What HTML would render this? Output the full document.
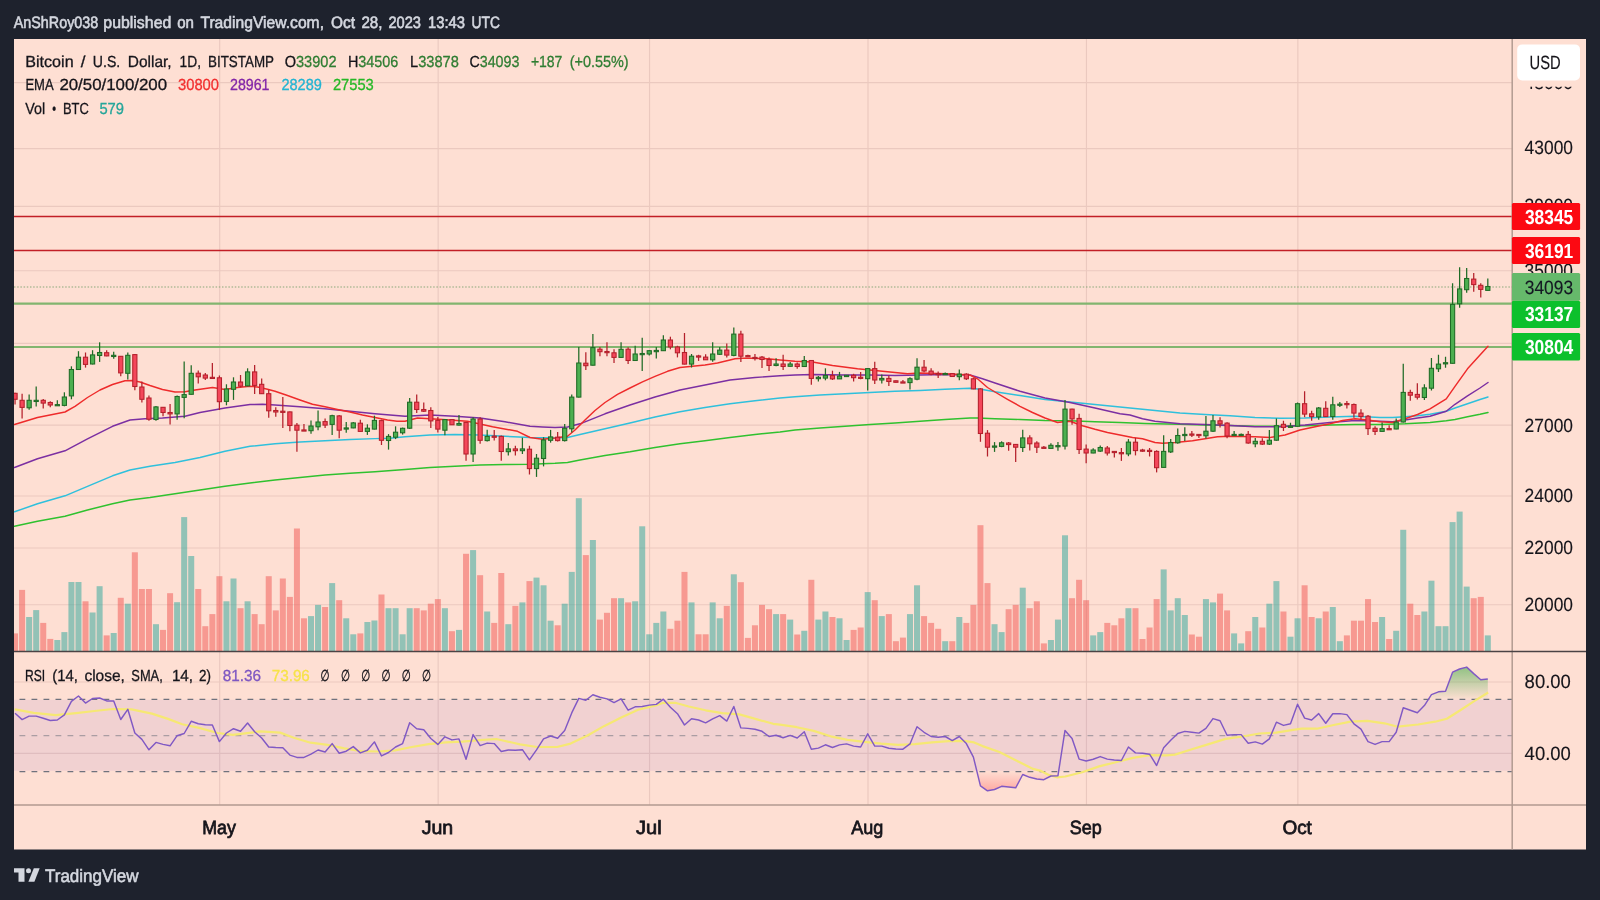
<!DOCTYPE html>
<html lang="en"><head><meta charset="utf-8"><title>BTCUSD chart by AnShRoy038 - TradingView</title>
<style>html,body{margin:0;padding:0;background:#1e222d;}body{width:1600px;height:900px;overflow:hidden;}svg{display:block;font-family:'Liberation Sans', 'DejaVu Sans', sans-serif;will-change:transform;text-rendering:geometricPrecision;}</style>
</head><body>
<svg width="1600" height="900" viewBox="0 0 1600 900">
<rect x="0" y="0" width="1600" height="900" fill="#1e222d"/>
<rect x="14" y="39" width="1572" height="810.5" fill="#fedfd3"/>
<defs>
<clipPath id="cm"><rect x="14" y="39" width="1498.2" height="612.4"/></clipPath>
<clipPath id="cr"><rect x="14" y="651.4" width="1498.2" height="153.60000000000002"/></clipPath>
<linearGradient id="gob" gradientUnits="userSpaceOnUse" x1="0" y1="646.5" x2="0" y2="699.75"><stop offset="0" stop-color="#4caf50" stop-opacity="1"/><stop offset="1" stop-color="#4caf50" stop-opacity="0"/></linearGradient>
<linearGradient id="gos" gradientUnits="userSpaceOnUse" x1="0" y1="770.75" x2="0" y2="824"><stop offset="0" stop-color="#ff5252" stop-opacity="0"/><stop offset="1" stop-color="#ff5252" stop-opacity="1"/></linearGradient>
</defs>
<g stroke="#ebc9bf" stroke-width="1.15" fill="none">
<line x1="14" y1="82.6" x2="1512.2" y2="82.6"/>
<line x1="14" y1="148.6" x2="1512.2" y2="148.6"/>
<line x1="14" y1="206.3" x2="1512.2" y2="206.3"/>
<line x1="14" y1="270.7" x2="1512.2" y2="270.7"/>
<line x1="14" y1="343.4" x2="1512.2" y2="343.4"/>
<line x1="14" y1="425.1" x2="1512.2" y2="425.1"/>
<line x1="14" y1="496" x2="1512.2" y2="496"/>
<line x1="14" y1="548" x2="1512.2" y2="548"/>
<line x1="14" y1="604.7" x2="1512.2" y2="604.7"/>
<line x1="14" y1="682" x2="1512.2" y2="682"/>
<line x1="14" y1="753.3" x2="1512.2" y2="753.3"/>
<line x1="219.7" y1="39" x2="219.7" y2="805"/>
<line x1="438.15" y1="39" x2="438.15" y2="805"/>
<line x1="649.55" y1="39" x2="649.55" y2="805"/>
<line x1="868" y1="39" x2="868" y2="805"/>
<line x1="1086.45" y1="39" x2="1086.45" y2="805"/>
<line x1="1297.85" y1="39" x2="1297.85" y2="805"/>
</g>
<g clip-path="url(#cm)">
<g fill="#26a69a" fill-opacity="0.5">
<rect x="26.14" y="617" width="6" height="34.4"/>
<rect x="33.19" y="610.1" width="6" height="41.3"/>
<rect x="54.33" y="640" width="6" height="11.4"/>
<rect x="61.38" y="632.1" width="6" height="19.3"/>
<rect x="68.42" y="582" width="6" height="69.4"/>
<rect x="75.47" y="582" width="6" height="69.4"/>
<rect x="89.56" y="612.5" width="6" height="38.9"/>
<rect x="96.61" y="586.2" width="6" height="65.2"/>
<rect x="110.7" y="633" width="6" height="18.4"/>
<rect x="124.8" y="603.7" width="6" height="47.7"/>
<rect x="152.98" y="624.2" width="6" height="27.2"/>
<rect x="174.12" y="602.2" width="6" height="49.2"/>
<rect x="181.17" y="517.1" width="6" height="134.3"/>
<rect x="188.22" y="556" width="6" height="95.4"/>
<rect x="223.45" y="601.3" width="6" height="50.1"/>
<rect x="230.5" y="578.5" width="6" height="72.9"/>
<rect x="244.59" y="601.3" width="6" height="50.1"/>
<rect x="308.01" y="616.1" width="6" height="35.3"/>
<rect x="315.06" y="604.9" width="6" height="46.5"/>
<rect x="329.15" y="583.1" width="6" height="68.3"/>
<rect x="343.24" y="618.3" width="6" height="33.1"/>
<rect x="350.29" y="634.3" width="6" height="17.1"/>
<rect x="364.39" y="622" width="6" height="29.4"/>
<rect x="371.43" y="620.5" width="6" height="30.9"/>
<rect x="385.53" y="608.2" width="6" height="43.2"/>
<rect x="392.57" y="608.2" width="6" height="43.2"/>
<rect x="399.62" y="634.3" width="6" height="17.1"/>
<rect x="406.67" y="608.2" width="6" height="43.2"/>
<rect x="441.9" y="608.2" width="6" height="43.2"/>
<rect x="455.99" y="629.9" width="6" height="21.5"/>
<rect x="470.09" y="550.1" width="6" height="101.3"/>
<rect x="484.18" y="611.5" width="6" height="39.9"/>
<rect x="505.32" y="624.2" width="6" height="27.2"/>
<rect x="519.41" y="602.4" width="6" height="49"/>
<rect x="533.51" y="577.6" width="6" height="73.8"/>
<rect x="540.55" y="585.3" width="6" height="66.1"/>
<rect x="547.6" y="620.7" width="6" height="30.7"/>
<rect x="561.69" y="603.7" width="6" height="47.7"/>
<rect x="568.74" y="571.9" width="6" height="79.5"/>
<rect x="575.79" y="498.2" width="6" height="153.2"/>
<rect x="589.88" y="540" width="6" height="111.4"/>
<rect x="618.07" y="598.2" width="6" height="53.2"/>
<rect x="632.16" y="601.3" width="6" height="50.1"/>
<rect x="639.21" y="526.3" width="6" height="125.1"/>
<rect x="646.25" y="634.3" width="6" height="17.1"/>
<rect x="653.3" y="622.9" width="6" height="28.5"/>
<rect x="660.35" y="611.5" width="6" height="39.9"/>
<rect x="688.53" y="602.4" width="6" height="49"/>
<rect x="709.67" y="602.4" width="6" height="49"/>
<rect x="716.72" y="618.3" width="6" height="33.1"/>
<rect x="730.81" y="574.3" width="6" height="77.1"/>
<rect x="773.09" y="614.1" width="6" height="37.3"/>
<rect x="787.19" y="619.6" width="6" height="31.8"/>
<rect x="801.28" y="630.8" width="6" height="20.6"/>
<rect x="815.37" y="619.6" width="6" height="31.8"/>
<rect x="822.42" y="611.5" width="6" height="39.9"/>
<rect x="836.51" y="618.3" width="6" height="33.1"/>
<rect x="843.56" y="640" width="6" height="11.4"/>
<rect x="864.7" y="592.1" width="6" height="59.3"/>
<rect x="878.79" y="616.1" width="6" height="35.3"/>
<rect x="906.98" y="614.1" width="6" height="37.3"/>
<rect x="914.03" y="585.3" width="6" height="66.1"/>
<rect x="942.21" y="641.2" width="6" height="10.2"/>
<rect x="956.31" y="617" width="6" height="34.4"/>
<rect x="991.54" y="624.2" width="6" height="27.2"/>
<rect x="998.59" y="632.1" width="6" height="19.3"/>
<rect x="1019.73" y="587.7" width="6" height="63.7"/>
<rect x="1047.91" y="640" width="6" height="11.4"/>
<rect x="1054.96" y="619.6" width="6" height="31.8"/>
<rect x="1062.01" y="535.3" width="6" height="116.1"/>
<rect x="1090.2" y="635.4" width="6" height="16"/>
<rect x="1097.24" y="632.1" width="6" height="19.3"/>
<rect x="1125.43" y="608.2" width="6" height="43.2"/>
<rect x="1160.66" y="569.4" width="6" height="82"/>
<rect x="1167.71" y="610.4" width="6" height="41"/>
<rect x="1174.76" y="598.2" width="6" height="53.2"/>
<rect x="1181.8" y="615" width="6" height="36.4"/>
<rect x="1202.94" y="599.1" width="6" height="52.3"/>
<rect x="1209.99" y="602.4" width="6" height="49"/>
<rect x="1231.13" y="633.4" width="6" height="18"/>
<rect x="1238.18" y="643.4" width="6" height="8"/>
<rect x="1252.27" y="617" width="6" height="34.4"/>
<rect x="1266.36" y="603.7" width="6" height="47.7"/>
<rect x="1273.41" y="581.1" width="6" height="70.3"/>
<rect x="1287.5" y="636.7" width="6" height="14.7"/>
<rect x="1294.55" y="618.3" width="6" height="33.1"/>
<rect x="1315.69" y="618.3" width="6" height="33.1"/>
<rect x="1329.78" y="607" width="6" height="44.4"/>
<rect x="1336.83" y="641.2" width="6" height="10.2"/>
<rect x="1379.11" y="617" width="6" height="34.4"/>
<rect x="1393.2" y="630.8" width="6" height="20.6"/>
<rect x="1400.25" y="529.8" width="6" height="121.6"/>
<rect x="1421.39" y="611.5" width="6" height="39.9"/>
<rect x="1428.44" y="580.7" width="6" height="70.7"/>
<rect x="1435.48" y="626.2" width="6" height="25.2"/>
<rect x="1442.53" y="626.2" width="6" height="25.2"/>
<rect x="1449.58" y="522.1" width="6" height="129.3"/>
<rect x="1456.62" y="511.6" width="6" height="139.8"/>
<rect x="1463.67" y="586.6" width="6" height="64.8"/>
<rect x="1484.81" y="635.4" width="6" height="16"/>
</g>
<g fill="#ef5350" fill-opacity="0.5">
<rect x="12.05" y="633.4" width="6" height="18"/>
<rect x="19.1" y="589.9" width="6" height="61.5"/>
<rect x="40.24" y="622.9" width="6" height="28.5"/>
<rect x="47.28" y="638.9" width="6" height="12.5"/>
<rect x="82.52" y="601.3" width="6" height="50.1"/>
<rect x="103.66" y="635.4" width="6" height="16"/>
<rect x="117.75" y="597.8" width="6" height="53.6"/>
<rect x="131.84" y="552.3" width="6" height="99.1"/>
<rect x="138.89" y="589" width="6" height="62.4"/>
<rect x="145.94" y="589" width="6" height="62.4"/>
<rect x="160.03" y="629.9" width="6" height="21.5"/>
<rect x="167.08" y="593.2" width="6" height="58.2"/>
<rect x="195.26" y="589" width="6" height="62.4"/>
<rect x="202.31" y="626.2" width="6" height="25.2"/>
<rect x="209.36" y="614.1" width="6" height="37.3"/>
<rect x="216.4" y="576.2" width="6" height="75.2"/>
<rect x="237.54" y="608.2" width="6" height="43.2"/>
<rect x="251.64" y="614.1" width="6" height="37.3"/>
<rect x="258.68" y="624.2" width="6" height="27.2"/>
<rect x="265.73" y="576.2" width="6" height="75.2"/>
<rect x="272.78" y="610.4" width="6" height="41"/>
<rect x="279.82" y="578.5" width="6" height="72.9"/>
<rect x="286.87" y="596.9" width="6" height="54.5"/>
<rect x="293.92" y="528.5" width="6" height="122.9"/>
<rect x="300.96" y="618.3" width="6" height="33.1"/>
<rect x="322.1" y="607" width="6" height="44.4"/>
<rect x="336.2" y="600.2" width="6" height="51.2"/>
<rect x="357.34" y="633.4" width="6" height="18"/>
<rect x="378.48" y="594.5" width="6" height="56.9"/>
<rect x="413.71" y="608.2" width="6" height="43.2"/>
<rect x="420.76" y="610.4" width="6" height="41"/>
<rect x="427.81" y="603.7" width="6" height="47.7"/>
<rect x="434.85" y="599.1" width="6" height="52.3"/>
<rect x="448.95" y="631.2" width="6" height="20.2"/>
<rect x="463.04" y="553.8" width="6" height="97.6"/>
<rect x="477.13" y="575.2" width="6" height="76.2"/>
<rect x="491.23" y="622.9" width="6" height="28.5"/>
<rect x="498.27" y="573" width="6" height="78.4"/>
<rect x="512.37" y="605.9" width="6" height="45.5"/>
<rect x="526.46" y="581.1" width="6" height="70.3"/>
<rect x="554.65" y="625.3" width="6" height="26.1"/>
<rect x="582.83" y="555.1" width="6" height="96.3"/>
<rect x="596.93" y="619.6" width="6" height="31.8"/>
<rect x="603.97" y="612.8" width="6" height="38.6"/>
<rect x="611.02" y="598.2" width="6" height="53.2"/>
<rect x="625.11" y="602.4" width="6" height="49"/>
<rect x="667.39" y="628.8" width="6" height="22.6"/>
<rect x="674.44" y="620.7" width="6" height="30.7"/>
<rect x="681.49" y="571.9" width="6" height="79.5"/>
<rect x="695.58" y="634.3" width="6" height="17.1"/>
<rect x="702.63" y="634.3" width="6" height="17.1"/>
<rect x="723.77" y="605.9" width="6" height="45.5"/>
<rect x="737.86" y="582.2" width="6" height="69.2"/>
<rect x="744.91" y="637.9" width="6" height="13.5"/>
<rect x="751.95" y="625.3" width="6" height="26.1"/>
<rect x="759" y="604.9" width="6" height="46.5"/>
<rect x="766.05" y="609.2" width="6" height="42.2"/>
<rect x="780.14" y="614.1" width="6" height="37.3"/>
<rect x="794.23" y="634.5" width="6" height="16.9"/>
<rect x="808.33" y="579.8" width="6" height="71.6"/>
<rect x="829.47" y="617" width="6" height="34.4"/>
<rect x="850.61" y="629.9" width="6" height="21.5"/>
<rect x="857.65" y="627.5" width="6" height="23.9"/>
<rect x="871.75" y="600.2" width="6" height="51.2"/>
<rect x="885.84" y="614.1" width="6" height="37.3"/>
<rect x="892.89" y="641.2" width="6" height="10.2"/>
<rect x="899.93" y="637.6" width="6" height="13.8"/>
<rect x="921.07" y="616.1" width="6" height="35.3"/>
<rect x="928.12" y="622.9" width="6" height="28.5"/>
<rect x="935.17" y="628.8" width="6" height="22.6"/>
<rect x="949.26" y="641.2" width="6" height="10.2"/>
<rect x="963.35" y="622.9" width="6" height="28.5"/>
<rect x="970.4" y="604.9" width="6" height="46.5"/>
<rect x="977.45" y="525.2" width="6" height="126.2"/>
<rect x="984.49" y="583.1" width="6" height="68.3"/>
<rect x="1005.63" y="609.2" width="6" height="42.2"/>
<rect x="1012.68" y="604.9" width="6" height="46.5"/>
<rect x="1026.77" y="608.2" width="6" height="43.2"/>
<rect x="1033.82" y="601.3" width="6" height="50.1"/>
<rect x="1040.87" y="643.4" width="6" height="8"/>
<rect x="1069.06" y="598.2" width="6" height="53.2"/>
<rect x="1076.1" y="579.8" width="6" height="71.6"/>
<rect x="1083.15" y="600.2" width="6" height="51.2"/>
<rect x="1104.29" y="622.9" width="6" height="28.5"/>
<rect x="1111.34" y="625.3" width="6" height="26.1"/>
<rect x="1118.38" y="618.3" width="6" height="33.1"/>
<rect x="1132.48" y="608.2" width="6" height="43.2"/>
<rect x="1139.52" y="639" width="6" height="12.4"/>
<rect x="1146.57" y="627.5" width="6" height="23.9"/>
<rect x="1153.62" y="599.1" width="6" height="52.3"/>
<rect x="1188.85" y="634.5" width="6" height="16.9"/>
<rect x="1195.9" y="636.7" width="6" height="14.7"/>
<rect x="1217.04" y="593.6" width="6" height="57.8"/>
<rect x="1224.08" y="610.4" width="6" height="41"/>
<rect x="1245.22" y="631.2" width="6" height="20.2"/>
<rect x="1259.32" y="627.5" width="6" height="23.9"/>
<rect x="1280.46" y="611.5" width="6" height="39.9"/>
<rect x="1301.6" y="585.3" width="6" height="66.1"/>
<rect x="1308.64" y="617" width="6" height="34.4"/>
<rect x="1322.74" y="611.5" width="6" height="39.9"/>
<rect x="1343.88" y="635.4" width="6" height="16"/>
<rect x="1350.92" y="620.7" width="6" height="30.7"/>
<rect x="1357.97" y="620.7" width="6" height="30.7"/>
<rect x="1365.02" y="599.1" width="6" height="52.3"/>
<rect x="1372.06" y="622" width="6" height="29.4"/>
<rect x="1386.16" y="639" width="6" height="12.4"/>
<rect x="1407.3" y="603.7" width="6" height="47.7"/>
<rect x="1414.34" y="615" width="6" height="36.4"/>
<rect x="1470.72" y="598.2" width="6" height="53.2"/>
<rect x="1477.76" y="596.9" width="6" height="54.5"/>
</g>
<line x1="14" y1="216.4" x2="1512.2" y2="216.4" stroke="#c21f26" stroke-width="1.5"/>
<line x1="14" y1="250.4" x2="1512.2" y2="250.4" stroke="#c21f26" stroke-width="1.5"/>
<line x1="14" y1="303.6" x2="1512.2" y2="303.6" stroke="#82b56f" stroke-width="2.2"/>
<line x1="14" y1="347" x2="1512.2" y2="347" stroke="#82b56f" stroke-width="2.2"/>
<line x1="14" y1="287" x2="1512.2" y2="287" stroke="#7fa36f" stroke-width="1.3" stroke-dasharray="1.5 1.7" stroke-opacity="0.6"/>
<polyline points="14.5,526.3 37.5,521.3 65,516.3 87.5,510 112.5,503.8 130,500 150,497.5 175,493.8 200,490 225,486.3 250,483 275,480 300,477.5 325,475 350,473.3 375,471.8 405,469.5 430,467.5 455,466.3 480,465 505,464.5 530,464.3 555,463.3 567.5,462.5 580,460 605,455.5 630,451.8 655,447.5 680,443.8 705,440.8 730,437.5 755,434.5 780,432 795,430 820,428 845,426.3 870,424.5 895,423 920,421.3 945,419.5 970,418 977.5,418 995,418.8 1020,419.5 1045,420.5 1070,420.8 1095,421.8 1120,422.5 1145,423.5 1155,423.8 1180,424.3 1205,425 1230,425.5 1255,426.3 1280,426.3 1305,425.8 1330,425 1355,424.5 1380,424.5 1405,423.8 1430,422.5 1446.25,420.8 1455,419.5 1467.5,416.8 1480,414.3 1488,412.5" fill="none" stroke="#2fc12f" stroke-width="1.45" stroke-linejoin="round" stroke-linecap="round"/>
<polyline points="14.5,511.8 37.5,503.8 65,495.8 87.5,486.3 112.5,475.8 130,470 150,466.3 175,462.5 200,457.5 225,451.3 250,446.3 275,443.8 300,442 325,440.8 350,439.5 375,438.6 390,438.3 405,436.8 430,435 455,434.5 480,435 505,436.3 530,437.5 555,438 567.5,437.5 580,434.5 605,428.8 630,423 655,417 680,411.8 705,407.5 730,403.8 755,400.8 780,398 795,396.8 820,395 845,393.8 870,392.5 895,391.3 920,390.5 945,389.3 970,388.3 982.5,389.5 995,391.8 1020,395.5 1045,399.5 1070,402 1095,404.5 1120,407 1145,409.5 1170,412 1180,413 1205,414.5 1230,415.8 1255,417.5 1280,418.3 1305,418 1330,417 1355,416.3 1380,417.5 1392.5,417.5 1405,416.8 1417.5,415.8 1430,414.3 1446.25,411.3 1455,408 1467.5,403.8 1480,399.5 1488,397" fill="none" stroke="#2fc0dc" stroke-width="1.45" stroke-linejoin="round" stroke-linecap="round"/>
<polyline points="14.5,467.5 37.5,458.8 65,450.8 87.5,438.8 112.5,426.3 130,420 145,418.8 162.5,418 185,416.3 200,412.5 225,408 250,404.5 262.5,404.3 275,405 300,406.8 325,408.8 350,411.3 375,413.8 405,416.3 430,415 455,416.3 480,418 505,421.8 530,426.3 542.5,427 555,427.5 567.5,427 580,423.8 592.5,418.8 605,413.8 630,405 655,397 680,390 705,385 730,380 755,377.5 780,375.8 795,375 812.5,374.5 845,375 870,375 895,375.5 920,375 945,374.5 970,375 982.5,378.8 995,383 1020,391.3 1045,398 1070,402.5 1095,408 1120,413.8 1130,415 1142.5,418.8 1155,421.3 1180,423.8 1205,424.5 1230,425.5 1255,426.8 1280,426.8 1305,425 1330,422.5 1355,420.5 1380,421.3 1392.5,421.8 1405,420 1417.5,418 1430,416.3 1446.25,411.3 1455,404.3 1467.5,395.8 1480,388 1488,382.5" fill="none" stroke="#7b2fa2" stroke-width="1.45" stroke-linejoin="round" stroke-linecap="round"/>
<polyline points="14.5,424.5 37.5,417.5 65,412 75,406.3 87.5,397.5 100,390 112.5,384.5 125,380.8 132.5,380.5 140,382 150,385.5 162.5,389.5 175,392 185,391.8 195,390 212.5,387.5 225,389.5 237.5,387.5 250,386.3 257.5,387 267.5,389.3 275,391.3 287.5,395.5 300,400 312.5,404.3 325,406.8 337.5,409.5 350,412 362.5,415 375,417.5 387.5,420 397,421.2 405,421.3 417.5,418 442.5,419.5 467.5,421.3 492.5,426.8 517.5,431.3 530,437.5 542.5,439.3 555,438 567.5,436.3 575,430 585,420 595,410.5 605,402.5 617.5,394.3 630,388 642.5,381.8 655,376.3 667.5,371.3 680,367.5 692.5,366.3 705,365 717.5,363 730,360 735,358.8 742.5,358.3 755,358.3 767.5,358.8 780,360 795,361.3 812.5,362 832.5,365.5 857.5,368.8 882.5,371.3 907.5,373.8 920,373 945,373.8 970,375 977.5,378.8 987.5,387.5 995,392 1007.5,399.3 1020,406.3 1032.5,412.5 1045,418 1057.5,422.5 1063.75,421.8 1070,421.3 1082.5,425.8 1095,429.3 1107.5,432.5 1120,435 1132.5,437.5 1142.5,438.8 1155,442.5 1162.5,443.3 1175,442.5 1192.5,440.8 1217.5,436.8 1230,436.3 1255,436.8 1270,437.5 1285,435 1300,430 1317.5,426.3 1330,423.8 1342.5,420.5 1355,418.8 1367.5,420 1380,421.8 1392.5,422.5 1405,418.8 1417.5,414.5 1430,408.8 1446.25,398.8 1455,386.3 1467.5,368.8 1480,355 1488,346.3" fill="none" stroke="#ee2b2b" stroke-width="1.45" stroke-linejoin="round" stroke-linecap="round"/>
<g stroke-width="1.25">
<line x1="15.05" y1="392.7" x2="15.05" y2="404.6" stroke="#b4202b"/>
<rect x="12.95" y="393.3" width="4.2" height="6" fill="#f4475a" stroke="#b4202b" stroke-width="1.05"/>
<line x1="22.1" y1="393.7" x2="22.1" y2="418.6" stroke="#b4202b"/>
<rect x="20" y="400.3" width="4.2" height="7.1" fill="#f4475a" stroke="#b4202b" stroke-width="1.05"/>
<line x1="29.14" y1="394.6" x2="29.14" y2="409.7" stroke="#1f6b26"/>
<rect x="27.04" y="400.3" width="4.2" height="7.5" fill="#4caf50" stroke="#1f6b26" stroke-width="1.05"/>
<line x1="36.19" y1="386.5" x2="36.19" y2="406.5" stroke="#1f6b26"/>
<rect x="34.09" y="400.3" width="4.2" height="1.2" fill="#4caf50" stroke="#1f6b26" stroke-width="1.05"/>
<line x1="43.24" y1="399" x2="43.24" y2="408.4" stroke="#b4202b"/>
<rect x="41.14" y="400.3" width="4.2" height="2.8" fill="#f4475a" stroke="#b4202b" stroke-width="1.05"/>
<line x1="50.28" y1="401.2" x2="50.28" y2="407.3" stroke="#b4202b"/>
<rect x="48.18" y="402.5" width="4.2" height="2.5" fill="#f4475a" stroke="#b4202b" stroke-width="1.05"/>
<line x1="57.33" y1="400.3" x2="57.33" y2="405.4" stroke="#1f6b26"/>
<rect x="55.23" y="404.6" width="4.2" height="1.2" fill="#4caf50" stroke="#1f6b26" stroke-width="1.05"/>
<line x1="64.38" y1="392.3" x2="64.38" y2="406.3" stroke="#1f6b26"/>
<rect x="62.28" y="397" width="4.2" height="8.4" fill="#4caf50" stroke="#1f6b26" stroke-width="1.05"/>
<line x1="71.42" y1="366.3" x2="71.42" y2="399.3" stroke="#1f6b26"/>
<rect x="69.32" y="369.5" width="4.2" height="26.4" fill="#4caf50" stroke="#1f6b26" stroke-width="1.05"/>
<line x1="78.47" y1="351.2" x2="78.47" y2="370" stroke="#1f6b26"/>
<rect x="76.37" y="357.2" width="4.2" height="12.3" fill="#4caf50" stroke="#1f6b26" stroke-width="1.05"/>
<line x1="85.52" y1="352.5" x2="85.52" y2="367.6" stroke="#b4202b"/>
<rect x="83.42" y="357.2" width="4.2" height="7.2" fill="#f4475a" stroke="#b4202b" stroke-width="1.05"/>
<line x1="92.56" y1="350.2" x2="92.56" y2="364.4" stroke="#1f6b26"/>
<rect x="90.46" y="354.9" width="4.2" height="9.1" fill="#4caf50" stroke="#1f6b26" stroke-width="1.05"/>
<line x1="99.61" y1="342.3" x2="99.61" y2="361.9" stroke="#1f6b26"/>
<rect x="97.51" y="352.5" width="4.2" height="3" fill="#4caf50" stroke="#1f6b26" stroke-width="1.05"/>
<line x1="106.66" y1="350.2" x2="106.66" y2="356.3" stroke="#b4202b"/>
<rect x="104.56" y="352.7" width="4.2" height="3.2" fill="#f4475a" stroke="#b4202b" stroke-width="1.05"/>
<line x1="113.7" y1="351.7" x2="113.7" y2="358.7" stroke="#1f6b26"/>
<rect x="111.6" y="355.3" width="4.2" height="1.2" fill="#4caf50" stroke="#1f6b26" stroke-width="1.05"/>
<line x1="120.75" y1="355.9" x2="120.75" y2="376.3" stroke="#b4202b"/>
<rect x="118.65" y="356.3" width="4.2" height="16.6" fill="#f4475a" stroke="#b4202b" stroke-width="1.05"/>
<line x1="127.8" y1="352.5" x2="127.8" y2="379.5" stroke="#1f6b26"/>
<rect x="125.7" y="355.3" width="4.2" height="18" fill="#4caf50" stroke="#1f6b26" stroke-width="1.05"/>
<line x1="134.84" y1="354" x2="134.84" y2="390.3" stroke="#b4202b"/>
<rect x="132.74" y="354.6" width="4.2" height="31.9" fill="#f4475a" stroke="#b4202b" stroke-width="1.05"/>
<line x1="141.89" y1="381.4" x2="141.89" y2="402.5" stroke="#b4202b"/>
<rect x="139.79" y="387" width="4.2" height="12.3" fill="#f4475a" stroke="#b4202b" stroke-width="1.05"/>
<line x1="148.94" y1="395.5" x2="148.94" y2="420.7" stroke="#b4202b"/>
<rect x="146.84" y="398" width="4.2" height="21.2" fill="#f4475a" stroke="#b4202b" stroke-width="1.05"/>
<line x1="155.98" y1="405.9" x2="155.98" y2="420.7" stroke="#1f6b26"/>
<rect x="153.88" y="406.9" width="4.2" height="12.6" fill="#4caf50" stroke="#1f6b26" stroke-width="1.05"/>
<line x1="163.03" y1="406.9" x2="163.03" y2="416.3" stroke="#b4202b"/>
<rect x="160.93" y="407.3" width="4.2" height="5.2" fill="#f4475a" stroke="#b4202b" stroke-width="1.05"/>
<line x1="170.08" y1="404" x2="170.08" y2="424.4" stroke="#b4202b"/>
<rect x="167.98" y="412.5" width="4.2" height="1.4" fill="#f4475a" stroke="#b4202b" stroke-width="1.05"/>
<line x1="177.12" y1="395.5" x2="177.12" y2="419.7" stroke="#1f6b26"/>
<rect x="175.02" y="396.5" width="4.2" height="17.4" fill="#4caf50" stroke="#1f6b26" stroke-width="1.05"/>
<line x1="184.17" y1="361.5" x2="184.17" y2="418.2" stroke="#1f6b26"/>
<rect x="182.07" y="394.6" width="4.2" height="2.8" fill="#4caf50" stroke="#1f6b26" stroke-width="1.05"/>
<line x1="191.22" y1="365.3" x2="191.22" y2="394.6" stroke="#1f6b26"/>
<rect x="189.12" y="373.3" width="4.2" height="21" fill="#4caf50" stroke="#1f6b26" stroke-width="1.05"/>
<line x1="198.26" y1="370.6" x2="198.26" y2="383.4" stroke="#b4202b"/>
<rect x="196.16" y="373.2" width="4.2" height="3.6" fill="#f4475a" stroke="#b4202b" stroke-width="1.05"/>
<line x1="205.31" y1="373" x2="205.31" y2="380" stroke="#b4202b"/>
<rect x="203.21" y="375" width="4.2" height="3.1" fill="#f4475a" stroke="#b4202b" stroke-width="1.05"/>
<line x1="212.36" y1="362.9" x2="212.36" y2="378.9" stroke="#b4202b"/>
<rect x="210.26" y="377.3" width="4.2" height="1.2" fill="#f4475a" stroke="#b4202b" stroke-width="1.05"/>
<line x1="219.4" y1="375.5" x2="219.4" y2="410" stroke="#b4202b"/>
<rect x="217.3" y="377.8" width="4.2" height="23.9" fill="#f4475a" stroke="#b4202b" stroke-width="1.05"/>
<line x1="226.45" y1="384.3" x2="226.45" y2="405.3" stroke="#1f6b26"/>
<rect x="224.35" y="389" width="4.2" height="12.4" fill="#4caf50" stroke="#1f6b26" stroke-width="1.05"/>
<line x1="233.5" y1="377.3" x2="233.5" y2="399.9" stroke="#1f6b26"/>
<rect x="231.4" y="382" width="4.2" height="7.3" fill="#4caf50" stroke="#1f6b26" stroke-width="1.05"/>
<line x1="240.54" y1="375" x2="240.54" y2="387.4" stroke="#b4202b"/>
<rect x="238.44" y="382" width="4.2" height="4.2" fill="#f4475a" stroke="#b4202b" stroke-width="1.05"/>
<line x1="247.59" y1="368.3" x2="247.59" y2="386.2" stroke="#1f6b26"/>
<rect x="245.49" y="371.9" width="4.2" height="14" fill="#4caf50" stroke="#1f6b26" stroke-width="1.05"/>
<line x1="254.64" y1="364.9" x2="254.64" y2="394" stroke="#b4202b"/>
<rect x="252.54" y="371.9" width="4.2" height="13.5" fill="#f4475a" stroke="#b4202b" stroke-width="1.05"/>
<line x1="261.68" y1="378.6" x2="261.68" y2="394" stroke="#b4202b"/>
<rect x="259.58" y="384.3" width="4.2" height="9.4" fill="#f4475a" stroke="#b4202b" stroke-width="1.05"/>
<line x1="268.73" y1="389.8" x2="268.73" y2="417.8" stroke="#b4202b"/>
<rect x="266.63" y="393.7" width="4.2" height="17.1" fill="#f4475a" stroke="#b4202b" stroke-width="1.05"/>
<line x1="275.78" y1="407.2" x2="275.78" y2="416.7" stroke="#b4202b"/>
<rect x="273.68" y="410.5" width="4.2" height="1.5" fill="#f4475a" stroke="#b4202b" stroke-width="1.05"/>
<line x1="282.82" y1="397.1" x2="282.82" y2="427.9" stroke="#b4202b"/>
<rect x="280.72" y="411.2" width="4.2" height="1.2" fill="#f4475a" stroke="#b4202b" stroke-width="1.05"/>
<line x1="289.87" y1="411.5" x2="289.87" y2="431.3" stroke="#b4202b"/>
<rect x="287.77" y="411.9" width="4.2" height="13.6" fill="#f4475a" stroke="#b4202b" stroke-width="1.05"/>
<line x1="296.92" y1="422.9" x2="296.92" y2="451.7" stroke="#b4202b"/>
<rect x="294.82" y="425.2" width="4.2" height="5" fill="#f4475a" stroke="#b4202b" stroke-width="1.05"/>
<line x1="303.96" y1="424" x2="303.96" y2="431" stroke="#b4202b"/>
<rect x="301.86" y="429.9" width="4.2" height="1.2" fill="#f4475a" stroke="#b4202b" stroke-width="1.05"/>
<line x1="311.01" y1="420.6" x2="311.01" y2="433.8" stroke="#1f6b26"/>
<rect x="308.91" y="426" width="4.2" height="4.7" fill="#4caf50" stroke="#1f6b26" stroke-width="1.05"/>
<line x1="318.06" y1="410.5" x2="318.06" y2="430.2" stroke="#1f6b26"/>
<rect x="315.96" y="422" width="4.2" height="4.8" fill="#4caf50" stroke="#1f6b26" stroke-width="1.05"/>
<line x1="325.1" y1="418.5" x2="325.1" y2="427.9" stroke="#b4202b"/>
<rect x="323" y="421.6" width="4.2" height="3.5" fill="#f4475a" stroke="#b4202b" stroke-width="1.05"/>
<line x1="332.15" y1="414.7" x2="332.15" y2="434.9" stroke="#1f6b26"/>
<rect x="330.05" y="415.7" width="4.2" height="8.7" fill="#4caf50" stroke="#1f6b26" stroke-width="1.05"/>
<line x1="339.2" y1="415.1" x2="339.2" y2="438.3" stroke="#b4202b"/>
<rect x="337.1" y="415.9" width="4.2" height="14.3" fill="#f4475a" stroke="#b4202b" stroke-width="1.05"/>
<line x1="346.24" y1="422" x2="346.24" y2="432.8" stroke="#1f6b26"/>
<rect x="344.14" y="427.9" width="4.2" height="1.2" fill="#4caf50" stroke="#1f6b26" stroke-width="1.05"/>
<line x1="353.29" y1="422" x2="353.29" y2="428.2" stroke="#1f6b26"/>
<rect x="351.19" y="422.9" width="4.2" height="5" fill="#4caf50" stroke="#1f6b26" stroke-width="1.05"/>
<line x1="360.34" y1="419.8" x2="360.34" y2="431.8" stroke="#b4202b"/>
<rect x="358.24" y="423.2" width="4.2" height="8.2" fill="#f4475a" stroke="#b4202b" stroke-width="1.05"/>
<line x1="367.39" y1="424.3" x2="367.39" y2="434.9" stroke="#1f6b26"/>
<rect x="365.29" y="428.2" width="4.2" height="3.2" fill="#4caf50" stroke="#1f6b26" stroke-width="1.05"/>
<line x1="374.43" y1="415.7" x2="374.43" y2="429.4" stroke="#1f6b26"/>
<rect x="372.33" y="420.4" width="4.2" height="8.7" fill="#4caf50" stroke="#1f6b26" stroke-width="1.05"/>
<line x1="381.48" y1="419.6" x2="381.48" y2="445" stroke="#b4202b"/>
<rect x="379.38" y="420.6" width="4.2" height="19.7" fill="#f4475a" stroke="#b4202b" stroke-width="1.05"/>
<line x1="388.53" y1="434.1" x2="388.53" y2="449.6" stroke="#1f6b26"/>
<rect x="386.43" y="436.4" width="4.2" height="4.1" fill="#4caf50" stroke="#1f6b26" stroke-width="1.05"/>
<line x1="395.57" y1="426.3" x2="395.57" y2="439.1" stroke="#1f6b26"/>
<rect x="393.47" y="432.2" width="4.2" height="5" fill="#4caf50" stroke="#1f6b26" stroke-width="1.05"/>
<line x1="402.62" y1="427.6" x2="402.62" y2="434.6" stroke="#1f6b26"/>
<rect x="400.52" y="428.3" width="4.2" height="4.5" fill="#4caf50" stroke="#1f6b26" stroke-width="1.05"/>
<line x1="409.67" y1="398" x2="409.67" y2="429.1" stroke="#1f6b26"/>
<rect x="407.57" y="402.2" width="4.2" height="26" fill="#4caf50" stroke="#1f6b26" stroke-width="1.05"/>
<line x1="416.71" y1="394.4" x2="416.71" y2="413.1" stroke="#b4202b"/>
<rect x="414.61" y="402.2" width="4.2" height="7.3" fill="#f4475a" stroke="#b4202b" stroke-width="1.05"/>
<line x1="423.76" y1="402.5" x2="423.76" y2="412" stroke="#b4202b"/>
<rect x="421.66" y="409.5" width="4.2" height="1.7" fill="#f4475a" stroke="#b4202b" stroke-width="1.05"/>
<line x1="430.81" y1="407.2" x2="430.81" y2="427.9" stroke="#b4202b"/>
<rect x="428.71" y="410.5" width="4.2" height="10.4" fill="#f4475a" stroke="#b4202b" stroke-width="1.05"/>
<line x1="437.85" y1="417" x2="437.85" y2="432.5" stroke="#b4202b"/>
<rect x="435.75" y="420.4" width="4.2" height="8.7" fill="#f4475a" stroke="#b4202b" stroke-width="1.05"/>
<line x1="444.9" y1="419.3" x2="444.9" y2="435.2" stroke="#1f6b26"/>
<rect x="442.8" y="419.6" width="4.2" height="10.6" fill="#4caf50" stroke="#1f6b26" stroke-width="1.05"/>
<line x1="451.95" y1="418.9" x2="451.95" y2="425.1" stroke="#b4202b"/>
<rect x="449.85" y="419.6" width="4.2" height="5.2" fill="#f4475a" stroke="#b4202b" stroke-width="1.05"/>
<line x1="458.99" y1="415.1" x2="458.99" y2="425.5" stroke="#1f6b26"/>
<rect x="456.89" y="423.5" width="4.2" height="1.6" fill="#4caf50" stroke="#1f6b26" stroke-width="1.05"/>
<line x1="466.04" y1="422" x2="466.04" y2="460.8" stroke="#b4202b"/>
<rect x="463.94" y="422.4" width="4.2" height="31.6" fill="#f4475a" stroke="#b4202b" stroke-width="1.05"/>
<line x1="473.09" y1="417.3" x2="473.09" y2="462.1" stroke="#1f6b26"/>
<rect x="470.99" y="419" width="4.2" height="35" fill="#4caf50" stroke="#1f6b26" stroke-width="1.05"/>
<line x1="480.13" y1="417.3" x2="480.13" y2="443.7" stroke="#b4202b"/>
<rect x="478.03" y="419" width="4.2" height="21.3" fill="#f4475a" stroke="#b4202b" stroke-width="1.05"/>
<line x1="487.18" y1="429.7" x2="487.18" y2="441.4" stroke="#1f6b26"/>
<rect x="485.08" y="436.4" width="4.2" height="4.2" fill="#4caf50" stroke="#1f6b26" stroke-width="1.05"/>
<line x1="494.23" y1="429.9" x2="494.23" y2="440.6" stroke="#b4202b"/>
<rect x="492.13" y="436.1" width="4.2" height="1.2" fill="#f4475a" stroke="#b4202b" stroke-width="1.05"/>
<line x1="501.27" y1="435.6" x2="501.27" y2="460.8" stroke="#b4202b"/>
<rect x="499.17" y="436.4" width="4.2" height="15.1" fill="#f4475a" stroke="#b4202b" stroke-width="1.05"/>
<line x1="508.32" y1="443.1" x2="508.32" y2="455.6" stroke="#1f6b26"/>
<rect x="506.22" y="448.9" width="4.2" height="2.8" fill="#4caf50" stroke="#1f6b26" stroke-width="1.05"/>
<line x1="515.37" y1="445.8" x2="515.37" y2="455.6" stroke="#b4202b"/>
<rect x="513.27" y="448.9" width="4.2" height="1.8" fill="#f4475a" stroke="#b4202b" stroke-width="1.05"/>
<line x1="522.41" y1="437.7" x2="522.41" y2="454" stroke="#1f6b26"/>
<rect x="520.31" y="448.9" width="4.2" height="1.8" fill="#4caf50" stroke="#1f6b26" stroke-width="1.05"/>
<line x1="529.46" y1="445.8" x2="529.46" y2="474.5" stroke="#b4202b"/>
<rect x="527.36" y="449.2" width="4.2" height="19.4" fill="#f4475a" stroke="#b4202b" stroke-width="1.05"/>
<line x1="536.51" y1="454" x2="536.51" y2="476.9" stroke="#1f6b26"/>
<rect x="534.41" y="458.2" width="4.2" height="10.4" fill="#4caf50" stroke="#1f6b26" stroke-width="1.05"/>
<line x1="543.55" y1="437.2" x2="543.55" y2="466.4" stroke="#1f6b26"/>
<rect x="541.45" y="440" width="4.2" height="18.5" fill="#4caf50" stroke="#1f6b26" stroke-width="1.05"/>
<line x1="550.6" y1="429.9" x2="550.6" y2="442.6" stroke="#1f6b26"/>
<rect x="548.5" y="436.9" width="4.2" height="3.4" fill="#4caf50" stroke="#1f6b26" stroke-width="1.05"/>
<line x1="557.65" y1="432.1" x2="557.65" y2="441.4" stroke="#b4202b"/>
<rect x="555.55" y="437.2" width="4.2" height="3.4" fill="#f4475a" stroke="#b4202b" stroke-width="1.05"/>
<line x1="564.69" y1="424" x2="564.69" y2="441.6" stroke="#1f6b26"/>
<rect x="562.59" y="428.3" width="4.2" height="12.3" fill="#4caf50" stroke="#1f6b26" stroke-width="1.05"/>
<line x1="571.74" y1="394.4" x2="571.74" y2="432.5" stroke="#1f6b26"/>
<rect x="569.64" y="397.1" width="4.2" height="31.7" fill="#4caf50" stroke="#1f6b26" stroke-width="1.05"/>
<line x1="578.79" y1="347" x2="578.79" y2="397.4" stroke="#1f6b26"/>
<rect x="576.69" y="363" width="4.2" height="34.1" fill="#4caf50" stroke="#1f6b26" stroke-width="1.05"/>
<line x1="585.83" y1="352.3" x2="585.83" y2="369.9" stroke="#b4202b"/>
<rect x="583.73" y="363.2" width="4.2" height="2.5" fill="#f4475a" stroke="#b4202b" stroke-width="1.05"/>
<line x1="592.88" y1="334.1" x2="592.88" y2="365.5" stroke="#1f6b26"/>
<rect x="590.78" y="347.6" width="4.2" height="17.6" fill="#4caf50" stroke="#1f6b26" stroke-width="1.05"/>
<line x1="599.93" y1="347" x2="599.93" y2="356.2" stroke="#b4202b"/>
<rect x="597.83" y="349.2" width="4.2" height="2.5" fill="#f4475a" stroke="#b4202b" stroke-width="1.05"/>
<line x1="606.97" y1="342.2" x2="606.97" y2="356.2" stroke="#b4202b"/>
<rect x="604.87" y="351.5" width="4.2" height="1.2" fill="#f4475a" stroke="#b4202b" stroke-width="1.05"/>
<line x1="614.02" y1="349.2" x2="614.02" y2="362.9" stroke="#b4202b"/>
<rect x="611.92" y="352.8" width="4.2" height="4.6" fill="#f4475a" stroke="#b4202b" stroke-width="1.05"/>
<line x1="621.07" y1="342.2" x2="621.07" y2="357.7" stroke="#1f6b26"/>
<rect x="618.97" y="349.3" width="4.2" height="8.1" fill="#4caf50" stroke="#1f6b26" stroke-width="1.05"/>
<line x1="628.11" y1="347.3" x2="628.11" y2="364.1" stroke="#b4202b"/>
<rect x="626.01" y="349.2" width="4.2" height="11.3" fill="#f4475a" stroke="#b4202b" stroke-width="1.05"/>
<line x1="635.16" y1="345.8" x2="635.16" y2="360.8" stroke="#1f6b26"/>
<rect x="633.06" y="354" width="4.2" height="6.5" fill="#4caf50" stroke="#1f6b26" stroke-width="1.05"/>
<line x1="642.21" y1="337.7" x2="642.21" y2="371.1" stroke="#1f6b26"/>
<rect x="640.11" y="353.5" width="4.2" height="1.2" fill="#4caf50" stroke="#1f6b26" stroke-width="1.05"/>
<line x1="649.25" y1="350.1" x2="649.25" y2="355.4" stroke="#1f6b26"/>
<rect x="647.15" y="350.7" width="4.2" height="3.3" fill="#4caf50" stroke="#1f6b26" stroke-width="1.05"/>
<line x1="656.3" y1="347" x2="656.3" y2="358.5" stroke="#1f6b26"/>
<rect x="654.2" y="350.4" width="4.2" height="1.3" fill="#4caf50" stroke="#1f6b26" stroke-width="1.05"/>
<line x1="663.35" y1="335.3" x2="663.35" y2="350.9" stroke="#1f6b26"/>
<rect x="661.25" y="340" width="4.2" height="10.7" fill="#4caf50" stroke="#1f6b26" stroke-width="1.05"/>
<line x1="670.39" y1="336.7" x2="670.39" y2="349.3" stroke="#b4202b"/>
<rect x="668.29" y="340" width="4.2" height="6.9" fill="#f4475a" stroke="#b4202b" stroke-width="1.05"/>
<line x1="677.44" y1="345.8" x2="677.44" y2="357.4" stroke="#b4202b"/>
<rect x="675.34" y="347" width="4.2" height="5.8" fill="#f4475a" stroke="#b4202b" stroke-width="1.05"/>
<line x1="684.49" y1="333" x2="684.49" y2="364.4" stroke="#b4202b"/>
<rect x="682.39" y="352.5" width="4.2" height="11.6" fill="#f4475a" stroke="#b4202b" stroke-width="1.05"/>
<line x1="691.53" y1="354" x2="691.53" y2="367.5" stroke="#1f6b26"/>
<rect x="689.43" y="356.2" width="4.2" height="7.9" fill="#4caf50" stroke="#1f6b26" stroke-width="1.05"/>
<line x1="698.58" y1="354.8" x2="698.58" y2="360.9" stroke="#b4202b"/>
<rect x="696.48" y="355.9" width="4.2" height="1.2" fill="#f4475a" stroke="#b4202b" stroke-width="1.05"/>
<line x1="705.63" y1="354.3" x2="705.63" y2="359.8" stroke="#b4202b"/>
<rect x="703.53" y="357.1" width="4.2" height="2.7" fill="#f4475a" stroke="#b4202b" stroke-width="1.05"/>
<line x1="712.67" y1="342.2" x2="712.67" y2="361.8" stroke="#1f6b26"/>
<rect x="710.57" y="354" width="4.2" height="5.8" fill="#4caf50" stroke="#1f6b26" stroke-width="1.05"/>
<line x1="719.72" y1="347" x2="719.72" y2="355.1" stroke="#1f6b26"/>
<rect x="717.62" y="350.1" width="4.2" height="4.2" fill="#4caf50" stroke="#1f6b26" stroke-width="1.05"/>
<line x1="726.77" y1="343.4" x2="726.77" y2="357.4" stroke="#b4202b"/>
<rect x="724.67" y="350.1" width="4.2" height="5" fill="#f4475a" stroke="#b4202b" stroke-width="1.05"/>
<line x1="733.81" y1="327.4" x2="733.81" y2="356.2" stroke="#1f6b26"/>
<rect x="731.71" y="334.1" width="4.2" height="21.3" fill="#4caf50" stroke="#1f6b26" stroke-width="1.05"/>
<line x1="740.86" y1="330.7" x2="740.86" y2="362.1" stroke="#b4202b"/>
<rect x="738.76" y="334.1" width="4.2" height="22.1" fill="#f4475a" stroke="#b4202b" stroke-width="1.05"/>
<line x1="747.91" y1="354.8" x2="747.91" y2="356.5" stroke="#b4202b"/>
<rect x="745.81" y="355.6" width="4.2" height="1.2" fill="#f4475a" stroke="#b4202b" stroke-width="1.05"/>
<line x1="754.95" y1="354" x2="754.95" y2="360.5" stroke="#b4202b"/>
<rect x="752.85" y="357.4" width="4.2" height="1.2" fill="#f4475a" stroke="#b4202b" stroke-width="1.05"/>
<line x1="762" y1="355.9" x2="762" y2="367.9" stroke="#b4202b"/>
<rect x="759.9" y="357.1" width="4.2" height="2.4" fill="#f4475a" stroke="#b4202b" stroke-width="1.05"/>
<line x1="769.05" y1="357.4" x2="769.05" y2="371.1" stroke="#b4202b"/>
<rect x="766.95" y="359.5" width="4.2" height="6" fill="#f4475a" stroke="#b4202b" stroke-width="1.05"/>
<line x1="776.09" y1="358.2" x2="776.09" y2="366.3" stroke="#1f6b26"/>
<rect x="773.99" y="364" width="4.2" height="1.5" fill="#4caf50" stroke="#1f6b26" stroke-width="1.05"/>
<line x1="783.14" y1="354.8" x2="783.14" y2="369.9" stroke="#b4202b"/>
<rect x="781.04" y="364" width="4.2" height="2.5" fill="#f4475a" stroke="#b4202b" stroke-width="1.05"/>
<line x1="790.19" y1="362.1" x2="790.19" y2="366.5" stroke="#1f6b26"/>
<rect x="788.09" y="364" width="4.2" height="2.3" fill="#4caf50" stroke="#1f6b26" stroke-width="1.05"/>
<line x1="797.23" y1="362.6" x2="797.23" y2="368.8" stroke="#b4202b"/>
<rect x="795.13" y="364" width="4.2" height="2.5" fill="#f4475a" stroke="#b4202b" stroke-width="1.05"/>
<line x1="804.28" y1="355.9" x2="804.28" y2="366.7" stroke="#1f6b26"/>
<rect x="802.18" y="360.5" width="4.2" height="6" fill="#4caf50" stroke="#1f6b26" stroke-width="1.05"/>
<line x1="811.33" y1="360.1" x2="811.33" y2="384.7" stroke="#b4202b"/>
<rect x="809.23" y="360.5" width="4.2" height="17.9" fill="#f4475a" stroke="#b4202b" stroke-width="1.05"/>
<line x1="818.37" y1="376.1" x2="818.37" y2="381.5" stroke="#1f6b26"/>
<rect x="816.27" y="377.3" width="4.2" height="1.4" fill="#4caf50" stroke="#1f6b26" stroke-width="1.05"/>
<line x1="825.42" y1="368.3" x2="825.42" y2="380.3" stroke="#1f6b26"/>
<rect x="823.32" y="375.6" width="4.2" height="2.5" fill="#4caf50" stroke="#1f6b26" stroke-width="1.05"/>
<line x1="832.47" y1="370.7" x2="832.47" y2="380" stroke="#b4202b"/>
<rect x="830.37" y="375.6" width="4.2" height="3.3" fill="#f4475a" stroke="#b4202b" stroke-width="1.05"/>
<line x1="839.51" y1="371.9" x2="839.51" y2="379" stroke="#1f6b26"/>
<rect x="837.41" y="376.1" width="4.2" height="2.8" fill="#4caf50" stroke="#1f6b26" stroke-width="1.05"/>
<line x1="846.56" y1="375" x2="846.56" y2="376.8" stroke="#1f6b26"/>
<rect x="844.46" y="375.3" width="4.2" height="1.3" fill="#4caf50" stroke="#1f6b26" stroke-width="1.05"/>
<line x1="853.61" y1="373.8" x2="853.61" y2="381.5" stroke="#b4202b"/>
<rect x="851.51" y="375.3" width="4.2" height="2.4" fill="#f4475a" stroke="#b4202b" stroke-width="1.05"/>
<line x1="860.65" y1="371.9" x2="860.65" y2="379.2" stroke="#b4202b"/>
<rect x="858.55" y="377.2" width="4.2" height="1.2" fill="#f4475a" stroke="#b4202b" stroke-width="1.05"/>
<line x1="867.7" y1="368" x2="867.7" y2="390.6" stroke="#1f6b26"/>
<rect x="865.6" y="368.6" width="4.2" height="10.1" fill="#4caf50" stroke="#1f6b26" stroke-width="1.05"/>
<line x1="874.75" y1="361.8" x2="874.75" y2="383.9" stroke="#b4202b"/>
<rect x="872.65" y="368.6" width="4.2" height="11.4" fill="#f4475a" stroke="#b4202b" stroke-width="1.05"/>
<line x1="881.79" y1="374.5" x2="881.79" y2="383.6" stroke="#1f6b26"/>
<rect x="879.69" y="378.4" width="4.2" height="1.6" fill="#4caf50" stroke="#1f6b26" stroke-width="1.05"/>
<line x1="888.84" y1="375.6" x2="888.84" y2="385.9" stroke="#b4202b"/>
<rect x="886.74" y="378.4" width="4.2" height="3.1" fill="#f4475a" stroke="#b4202b" stroke-width="1.05"/>
<line x1="895.89" y1="380.5" x2="895.89" y2="382.5" stroke="#b4202b"/>
<rect x="893.79" y="380.8" width="4.2" height="1.5" fill="#f4475a" stroke="#b4202b" stroke-width="1.05"/>
<line x1="902.93" y1="380" x2="902.93" y2="382.8" stroke="#b4202b"/>
<rect x="900.83" y="381.9" width="4.2" height="1.2" fill="#f4475a" stroke="#b4202b" stroke-width="1.05"/>
<line x1="909.98" y1="377.2" x2="909.98" y2="389.6" stroke="#1f6b26"/>
<rect x="907.88" y="378.7" width="4.2" height="3.9" fill="#4caf50" stroke="#1f6b26" stroke-width="1.05"/>
<line x1="917.03" y1="358.2" x2="917.03" y2="380.3" stroke="#1f6b26"/>
<rect x="914.93" y="367.2" width="4.2" height="12" fill="#4caf50" stroke="#1f6b26" stroke-width="1.05"/>
<line x1="924.07" y1="360.1" x2="924.07" y2="372.2" stroke="#b4202b"/>
<rect x="921.97" y="367.2" width="4.2" height="3.8" fill="#f4475a" stroke="#b4202b" stroke-width="1.05"/>
<line x1="931.12" y1="368.3" x2="931.12" y2="375.3" stroke="#b4202b"/>
<rect x="929.02" y="371.1" width="4.2" height="3.1" fill="#f4475a" stroke="#b4202b" stroke-width="1.05"/>
<line x1="938.17" y1="371.4" x2="938.17" y2="378" stroke="#b4202b"/>
<rect x="936.07" y="373.5" width="4.2" height="1.2" fill="#f4475a" stroke="#b4202b" stroke-width="1.05"/>
<line x1="945.21" y1="372.5" x2="945.21" y2="375" stroke="#1f6b26"/>
<rect x="943.11" y="373.5" width="4.2" height="1.2" fill="#4caf50" stroke="#1f6b26" stroke-width="1.05"/>
<line x1="952.26" y1="373" x2="952.26" y2="376.8" stroke="#b4202b"/>
<rect x="950.16" y="373.6" width="4.2" height="2.9" fill="#f4475a" stroke="#b4202b" stroke-width="1.05"/>
<line x1="959.31" y1="369.4" x2="959.31" y2="380.3" stroke="#1f6b26"/>
<rect x="957.21" y="374.1" width="4.2" height="2.6" fill="#4caf50" stroke="#1f6b26" stroke-width="1.05"/>
<line x1="966.35" y1="373.3" x2="966.35" y2="379.9" stroke="#b4202b"/>
<rect x="964.25" y="374.1" width="4.2" height="4.7" fill="#f4475a" stroke="#b4202b" stroke-width="1.05"/>
<line x1="973.4" y1="377.7" x2="973.4" y2="389.2" stroke="#b4202b"/>
<rect x="971.3" y="378.8" width="4.2" height="10.1" fill="#f4475a" stroke="#b4202b" stroke-width="1.05"/>
<line x1="980.45" y1="388.1" x2="980.45" y2="441.8" stroke="#b4202b"/>
<rect x="978.35" y="388.9" width="4.2" height="44.6" fill="#f4475a" stroke="#b4202b" stroke-width="1.05"/>
<line x1="987.49" y1="430.1" x2="987.49" y2="456.5" stroke="#b4202b"/>
<rect x="985.39" y="433.2" width="4.2" height="14" fill="#f4475a" stroke="#b4202b" stroke-width="1.05"/>
<line x1="994.54" y1="442.1" x2="994.54" y2="451.9" stroke="#1f6b26"/>
<rect x="992.44" y="446" width="4.2" height="1.2" fill="#4caf50" stroke="#1f6b26" stroke-width="1.05"/>
<line x1="1001.59" y1="441.3" x2="1001.59" y2="447.2" stroke="#1f6b26"/>
<rect x="999.49" y="442.8" width="4.2" height="3.6" fill="#4caf50" stroke="#1f6b26" stroke-width="1.05"/>
<line x1="1008.63" y1="442.1" x2="1008.63" y2="450.8" stroke="#b4202b"/>
<rect x="1006.53" y="443" width="4.2" height="1.6" fill="#f4475a" stroke="#b4202b" stroke-width="1.05"/>
<line x1="1015.68" y1="444.1" x2="1015.68" y2="462" stroke="#b4202b"/>
<rect x="1013.58" y="444.4" width="4.2" height="2.8" fill="#f4475a" stroke="#b4202b" stroke-width="1.05"/>
<line x1="1022.73" y1="429.8" x2="1022.73" y2="451.9" stroke="#1f6b26"/>
<rect x="1020.63" y="437.9" width="4.2" height="9.6" fill="#4caf50" stroke="#1f6b26" stroke-width="1.05"/>
<line x1="1029.77" y1="435.2" x2="1029.77" y2="450.6" stroke="#b4202b"/>
<rect x="1027.67" y="437.9" width="4.2" height="5.9" fill="#f4475a" stroke="#b4202b" stroke-width="1.05"/>
<line x1="1036.82" y1="441.3" x2="1036.82" y2="453" stroke="#b4202b"/>
<rect x="1034.72" y="443" width="4.2" height="4.2" fill="#f4475a" stroke="#b4202b" stroke-width="1.05"/>
<line x1="1043.87" y1="446.1" x2="1043.87" y2="448.5" stroke="#b4202b"/>
<rect x="1041.77" y="447.2" width="4.2" height="1.2" fill="#f4475a" stroke="#b4202b" stroke-width="1.05"/>
<line x1="1050.91" y1="443.3" x2="1050.91" y2="448.6" stroke="#1f6b26"/>
<rect x="1048.81" y="445.3" width="4.2" height="3.1" fill="#4caf50" stroke="#1f6b26" stroke-width="1.05"/>
<line x1="1057.96" y1="442.1" x2="1057.96" y2="450.8" stroke="#1f6b26"/>
<rect x="1055.86" y="445.6" width="4.2" height="1.2" fill="#4caf50" stroke="#1f6b26" stroke-width="1.05"/>
<line x1="1065.01" y1="400.1" x2="1065.01" y2="449.5" stroke="#1f6b26"/>
<rect x="1062.91" y="409.1" width="4.2" height="37" fill="#4caf50" stroke="#1f6b26" stroke-width="1.05"/>
<line x1="1072.06" y1="408.8" x2="1072.06" y2="424.7" stroke="#b4202b"/>
<rect x="1069.96" y="409.1" width="4.2" height="9.8" fill="#f4475a" stroke="#b4202b" stroke-width="1.05"/>
<line x1="1079.1" y1="413.8" x2="1079.1" y2="453.9" stroke="#b4202b"/>
<rect x="1077" y="418.4" width="4.2" height="31.1" fill="#f4475a" stroke="#b4202b" stroke-width="1.05"/>
<line x1="1086.15" y1="444.6" x2="1086.15" y2="463.2" stroke="#b4202b"/>
<rect x="1084.05" y="449.1" width="4.2" height="3.9" fill="#f4475a" stroke="#b4202b" stroke-width="1.05"/>
<line x1="1093.2" y1="448.3" x2="1093.2" y2="453.2" stroke="#1f6b26"/>
<rect x="1091.1" y="450" width="4.2" height="3" fill="#4caf50" stroke="#1f6b26" stroke-width="1.05"/>
<line x1="1100.24" y1="445.6" x2="1100.24" y2="451.9" stroke="#1f6b26"/>
<rect x="1098.14" y="447.5" width="4.2" height="3.6" fill="#4caf50" stroke="#1f6b26" stroke-width="1.05"/>
<line x1="1107.29" y1="446" x2="1107.29" y2="455.4" stroke="#b4202b"/>
<rect x="1105.19" y="448" width="4.2" height="5" fill="#f4475a" stroke="#b4202b" stroke-width="1.05"/>
<line x1="1114.34" y1="451.1" x2="1114.34" y2="457.6" stroke="#b4202b"/>
<rect x="1112.24" y="451.4" width="4.2" height="1.2" fill="#f4475a" stroke="#b4202b" stroke-width="1.05"/>
<line x1="1121.38" y1="448" x2="1121.38" y2="460.9" stroke="#b4202b"/>
<rect x="1119.28" y="452.6" width="4.2" height="1.2" fill="#f4475a" stroke="#b4202b" stroke-width="1.05"/>
<line x1="1128.43" y1="439.1" x2="1128.43" y2="456.2" stroke="#1f6b26"/>
<rect x="1126.33" y="442.1" width="4.2" height="11.8" fill="#4caf50" stroke="#1f6b26" stroke-width="1.05"/>
<line x1="1135.48" y1="437.9" x2="1135.48" y2="455.4" stroke="#b4202b"/>
<rect x="1133.38" y="442.2" width="4.2" height="8.4" fill="#f4475a" stroke="#b4202b" stroke-width="1.05"/>
<line x1="1142.52" y1="448.8" x2="1142.52" y2="451.9" stroke="#b4202b"/>
<rect x="1140.42" y="450" width="4.2" height="1.2" fill="#f4475a" stroke="#b4202b" stroke-width="1.05"/>
<line x1="1149.57" y1="448" x2="1149.57" y2="456.5" stroke="#b4202b"/>
<rect x="1147.47" y="450.3" width="4.2" height="1.2" fill="#f4475a" stroke="#b4202b" stroke-width="1.05"/>
<line x1="1156.62" y1="450.3" x2="1156.62" y2="472.4" stroke="#b4202b"/>
<rect x="1154.52" y="451.4" width="4.2" height="16.3" fill="#f4475a" stroke="#b4202b" stroke-width="1.05"/>
<line x1="1163.66" y1="435.2" x2="1163.66" y2="467.6" stroke="#1f6b26"/>
<rect x="1161.56" y="451.4" width="4.2" height="16" fill="#4caf50" stroke="#1f6b26" stroke-width="1.05"/>
<line x1="1170.71" y1="439" x2="1170.71" y2="453" stroke="#1f6b26"/>
<rect x="1168.61" y="442.5" width="4.2" height="9.4" fill="#4caf50" stroke="#1f6b26" stroke-width="1.05"/>
<line x1="1177.76" y1="428.5" x2="1177.76" y2="443.8" stroke="#1f6b26"/>
<rect x="1175.66" y="435.5" width="4.2" height="7.3" fill="#4caf50" stroke="#1f6b26" stroke-width="1.05"/>
<line x1="1184.8" y1="427.3" x2="1184.8" y2="441" stroke="#1f6b26"/>
<rect x="1182.7" y="434.4" width="4.2" height="1.2" fill="#4caf50" stroke="#1f6b26" stroke-width="1.05"/>
<line x1="1191.85" y1="430.9" x2="1191.85" y2="437.1" stroke="#b4202b"/>
<rect x="1189.75" y="434" width="4.2" height="1.2" fill="#f4475a" stroke="#b4202b" stroke-width="1.05"/>
<line x1="1198.9" y1="434" x2="1198.9" y2="437.9" stroke="#b4202b"/>
<rect x="1196.8" y="434.4" width="4.2" height="1.2" fill="#f4475a" stroke="#b4202b" stroke-width="1.05"/>
<line x1="1205.94" y1="416.1" x2="1205.94" y2="438.6" stroke="#1f6b26"/>
<rect x="1203.84" y="431.2" width="4.2" height="4.6" fill="#4caf50" stroke="#1f6b26" stroke-width="1.05"/>
<line x1="1212.99" y1="415" x2="1212.99" y2="432" stroke="#1f6b26"/>
<rect x="1210.89" y="420.8" width="4.2" height="10.4" fill="#4caf50" stroke="#1f6b26" stroke-width="1.05"/>
<line x1="1220.04" y1="417.2" x2="1220.04" y2="427.4" stroke="#b4202b"/>
<rect x="1217.94" y="420.8" width="4.2" height="3.1" fill="#f4475a" stroke="#b4202b" stroke-width="1.05"/>
<line x1="1227.08" y1="422.3" x2="1227.08" y2="438.2" stroke="#b4202b"/>
<rect x="1224.98" y="423.1" width="4.2" height="12.9" fill="#f4475a" stroke="#b4202b" stroke-width="1.05"/>
<line x1="1234.13" y1="430.9" x2="1234.13" y2="435.7" stroke="#1f6b26"/>
<rect x="1232.03" y="434.4" width="4.2" height="1.2" fill="#4caf50" stroke="#1f6b26" stroke-width="1.05"/>
<line x1="1241.18" y1="433.5" x2="1241.18" y2="435.4" stroke="#1f6b26"/>
<rect x="1239.08" y="434.4" width="4.2" height="1.2" fill="#4caf50" stroke="#1f6b26" stroke-width="1.05"/>
<line x1="1248.22" y1="430.9" x2="1248.22" y2="443.8" stroke="#b4202b"/>
<rect x="1246.12" y="434.4" width="4.2" height="8.6" fill="#f4475a" stroke="#b4202b" stroke-width="1.05"/>
<line x1="1255.27" y1="437.9" x2="1255.27" y2="447.2" stroke="#1f6b26"/>
<rect x="1253.17" y="441.3" width="4.2" height="2.5" fill="#4caf50" stroke="#1f6b26" stroke-width="1.05"/>
<line x1="1262.32" y1="438.2" x2="1262.32" y2="444.9" stroke="#b4202b"/>
<rect x="1260.22" y="441.3" width="4.2" height="2.8" fill="#f4475a" stroke="#b4202b" stroke-width="1.05"/>
<line x1="1269.36" y1="430.1" x2="1269.36" y2="444.9" stroke="#1f6b26"/>
<rect x="1267.26" y="440.2" width="4.2" height="3.9" fill="#4caf50" stroke="#1f6b26" stroke-width="1.05"/>
<line x1="1276.41" y1="418.4" x2="1276.41" y2="440.7" stroke="#1f6b26"/>
<rect x="1274.31" y="425.7" width="4.2" height="14.5" fill="#4caf50" stroke="#1f6b26" stroke-width="1.05"/>
<line x1="1283.46" y1="420.8" x2="1283.46" y2="430.9" stroke="#b4202b"/>
<rect x="1281.36" y="424.3" width="4.2" height="3.1" fill="#f4475a" stroke="#b4202b" stroke-width="1.05"/>
<line x1="1290.5" y1="422.8" x2="1290.5" y2="427.5" stroke="#1f6b26"/>
<rect x="1288.4" y="426.2" width="4.2" height="1.2" fill="#4caf50" stroke="#1f6b26" stroke-width="1.05"/>
<line x1="1297.55" y1="402.6" x2="1297.55" y2="426.5" stroke="#1f6b26"/>
<rect x="1295.45" y="403.7" width="4.2" height="22.5" fill="#4caf50" stroke="#1f6b26" stroke-width="1.05"/>
<line x1="1304.6" y1="391.2" x2="1304.6" y2="417.2" stroke="#b4202b"/>
<rect x="1302.5" y="403.7" width="4.2" height="10.4" fill="#f4475a" stroke="#b4202b" stroke-width="1.05"/>
<line x1="1311.64" y1="410.7" x2="1311.64" y2="420.8" stroke="#b4202b"/>
<rect x="1309.54" y="413.8" width="4.2" height="2.8" fill="#f4475a" stroke="#b4202b" stroke-width="1.05"/>
<line x1="1318.69" y1="407.1" x2="1318.69" y2="419.7" stroke="#1f6b26"/>
<rect x="1316.59" y="408" width="4.2" height="8.9" fill="#4caf50" stroke="#1f6b26" stroke-width="1.05"/>
<line x1="1325.74" y1="401.3" x2="1325.74" y2="416.9" stroke="#b4202b"/>
<rect x="1323.64" y="408.3" width="4.2" height="8.3" fill="#f4475a" stroke="#b4202b" stroke-width="1.05"/>
<line x1="1332.78" y1="396.7" x2="1332.78" y2="419.7" stroke="#1f6b26"/>
<rect x="1330.68" y="404.8" width="4.2" height="11.7" fill="#4caf50" stroke="#1f6b26" stroke-width="1.05"/>
<line x1="1339.83" y1="402" x2="1339.83" y2="406.9" stroke="#1f6b26"/>
<rect x="1337.73" y="404.1" width="4.2" height="1.2" fill="#4caf50" stroke="#1f6b26" stroke-width="1.05"/>
<line x1="1346.88" y1="401.1" x2="1346.88" y2="408.4" stroke="#b4202b"/>
<rect x="1344.78" y="403.5" width="4.2" height="1.2" fill="#f4475a" stroke="#b4202b" stroke-width="1.05"/>
<line x1="1353.92" y1="403.5" x2="1353.92" y2="417.8" stroke="#b4202b"/>
<rect x="1351.82" y="404.5" width="4.2" height="8.6" fill="#f4475a" stroke="#b4202b" stroke-width="1.05"/>
<line x1="1360.97" y1="409.2" x2="1360.97" y2="419.3" stroke="#b4202b"/>
<rect x="1358.87" y="413.1" width="4.2" height="3.4" fill="#f4475a" stroke="#b4202b" stroke-width="1.05"/>
<line x1="1368.02" y1="415.1" x2="1368.02" y2="434.9" stroke="#b4202b"/>
<rect x="1365.92" y="416.2" width="4.2" height="12.4" fill="#f4475a" stroke="#b4202b" stroke-width="1.05"/>
<line x1="1375.06" y1="426.3" x2="1375.06" y2="434.9" stroke="#b4202b"/>
<rect x="1372.96" y="428.3" width="4.2" height="3.1" fill="#f4475a" stroke="#b4202b" stroke-width="1.05"/>
<line x1="1382.11" y1="422.4" x2="1382.11" y2="431.6" stroke="#1f6b26"/>
<rect x="1380.01" y="428.6" width="4.2" height="2.8" fill="#4caf50" stroke="#1f6b26" stroke-width="1.05"/>
<line x1="1389.16" y1="425.2" x2="1389.16" y2="429.6" stroke="#b4202b"/>
<rect x="1387.06" y="428.6" width="4.2" height="1.2" fill="#f4475a" stroke="#b4202b" stroke-width="1.05"/>
<line x1="1396.2" y1="418.5" x2="1396.2" y2="429.2" stroke="#1f6b26"/>
<rect x="1394.1" y="422.1" width="4.2" height="6.9" fill="#4caf50" stroke="#1f6b26" stroke-width="1.05"/>
<line x1="1403.25" y1="363.8" x2="1403.25" y2="422.4" stroke="#1f6b26"/>
<rect x="1401.15" y="392.4" width="4.2" height="29.6" fill="#4caf50" stroke="#1f6b26" stroke-width="1.05"/>
<line x1="1410.3" y1="389.8" x2="1410.3" y2="400.7" stroke="#b4202b"/>
<rect x="1408.2" y="392.4" width="4.2" height="2.8" fill="#f4475a" stroke="#b4202b" stroke-width="1.05"/>
<line x1="1417.34" y1="383.2" x2="1417.34" y2="399.6" stroke="#b4202b"/>
<rect x="1415.24" y="394.4" width="4.2" height="2.8" fill="#f4475a" stroke="#b4202b" stroke-width="1.05"/>
<line x1="1424.39" y1="384.3" x2="1424.39" y2="399.9" stroke="#1f6b26"/>
<rect x="1422.29" y="387.9" width="4.2" height="9.6" fill="#4caf50" stroke="#1f6b26" stroke-width="1.05"/>
<line x1="1431.44" y1="358" x2="1431.44" y2="390.5" stroke="#1f6b26"/>
<rect x="1429.34" y="368.3" width="4.2" height="19.9" fill="#4caf50" stroke="#1f6b26" stroke-width="1.05"/>
<line x1="1438.48" y1="354.7" x2="1438.48" y2="372.1" stroke="#1f6b26"/>
<rect x="1436.38" y="364.1" width="4.2" height="4.7" fill="#4caf50" stroke="#1f6b26" stroke-width="1.05"/>
<line x1="1445.53" y1="356.8" x2="1445.53" y2="367.8" stroke="#1f6b26"/>
<rect x="1443.43" y="362.7" width="4.2" height="1.2" fill="#4caf50" stroke="#1f6b26" stroke-width="1.05"/>
<line x1="1452.58" y1="283.2" x2="1452.58" y2="363.5" stroke="#1f6b26"/>
<rect x="1450.48" y="304.4" width="4.2" height="58.9" fill="#4caf50" stroke="#1f6b26" stroke-width="1.05"/>
<line x1="1459.62" y1="267.3" x2="1459.62" y2="307.7" stroke="#1f6b26"/>
<rect x="1457.52" y="288.9" width="4.2" height="14.9" fill="#4caf50" stroke="#1f6b26" stroke-width="1.05"/>
<line x1="1466.67" y1="268" x2="1466.67" y2="292.8" stroke="#1f6b26"/>
<rect x="1464.57" y="278.5" width="4.2" height="11.2" fill="#4caf50" stroke="#1f6b26" stroke-width="1.05"/>
<line x1="1473.72" y1="273.1" x2="1473.72" y2="291.8" stroke="#b4202b"/>
<rect x="1471.62" y="279.1" width="4.2" height="5.5" fill="#f4475a" stroke="#b4202b" stroke-width="1.05"/>
<line x1="1480.76" y1="283.2" x2="1480.76" y2="297.6" stroke="#b4202b"/>
<rect x="1478.66" y="285.3" width="4.2" height="4.1" fill="#f4475a" stroke="#b4202b" stroke-width="1.05"/>
<line x1="1487.81" y1="278.4" x2="1487.81" y2="290.6" stroke="#1f6b26"/>
<rect x="1485.71" y="286.5" width="4.2" height="3.9" fill="#4caf50" stroke="#1f6b26" stroke-width="1.05"/>
</g>
</g>
<g clip-path="url(#cr)">
<rect x="14" y="699.75" width="1498.2" height="71" fill="#7e57c2" fill-opacity="0.1"/>
<polygon points="73.58,699.75 78.47,696 82.19,699.75" fill="url(#gob)"/>
<polygon points="90.65,699.75 92.56,698.5 99.61,698 103.86,699.75" fill="url(#gob)"/>
<polygon points="578.13,699.75 578.79,698.4 584.07,699.75" fill="url(#gob)"/>
<polygon points="586.41,699.75 592.88,694.7 599.93,697.2 606.97,698.9 608.59,699.75" fill="url(#gob)"/>
<polygon points="619.45,699.75 621.07,698.9 621.6,699.75" fill="url(#gob)"/>
<polygon points="662.6,699.75 663.35,699.2 663.82,699.75" fill="url(#gob)"/>
<polygon points="1428.17,699.75 1431.44,694.7 1438.48,691.8 1445.53,691.3 1452.58,672.2 1459.62,669 1466.67,667.1 1473.72,673.6 1480.76,679.8 1487.81,679 1487.81,699.75" fill="url(#gob)"/>
<polygon points="976.75,770.75 980.45,785.8 987.49,790.8 994.54,789.5 1001.59,786.3 1008.63,787 1015.68,787.8 1022.73,774.5 1029.77,777.3 1036.82,779 1043.87,779.7 1050.91,776 1057.96,775.7 1058.73,770.75" fill="url(#gos)"/>
<g stroke="#6f727d" stroke-width="1.25" stroke-dasharray="5.8 6.2" fill="none">
<line x1="19.5" y1="699.4" x2="1512.2" y2="699.4" stroke-opacity="1"/>
<line x1="19.5" y1="735.6" x2="1512.2" y2="735.6" stroke-opacity="0.55"/>
<line x1="19.5" y1="771.6" x2="1512.2" y2="771.6" stroke-opacity="1"/>
</g>
<polyline points="14.7,709.3 33.7,712.9 55.7,715.2 76,713.2 94.5,711 113,709 131.6,709.3 151.9,713.6 168.7,719.1 182.2,724.2 199.1,727.9 217.7,733 232.9,734.8 253.1,732.3 260,731.4 280.2,732.6 293.7,737.7 310.6,742.7 327.5,744.8 344.4,748.3 361.2,751.2 378.1,751.5 395,750.3 411.9,747 428.7,744.1 445.6,742.4 462.5,741.6 479.4,740.2 496.2,739 513.1,742.7 520,744.4 536.9,747 557.1,747 570.6,743.6 587.5,735.5 604.4,725.9 621.2,717.4 638.1,709.8 655,705.6 663.4,702.8 675.2,702.8 688.7,706.5 705.6,710.3 722.5,713.2 739.4,714.4 756.2,719.1 773.1,723.8 780,724.7 796.9,727.2 813.7,730.9 830.6,736.3 847.5,739.9 864.4,741.9 881.2,743.6 898.1,744.9 915,744.1 931.9,742.4 948.7,741.1 965.6,741.1 974.1,742.4 982.5,746.1 999.4,752 1016.2,760.5 1033.1,768.9 1040,770.6 1048.4,774.8 1056.9,777.3 1065.3,776.5 1082.2,772.3 1099.1,766.4 1115.9,762.2 1132.8,757.9 1149.7,755.1 1166.6,755.4 1175,754.6 1191.9,749.2 1208.7,744.1 1225.6,738.9 1242.5,736.5 1259.4,733.5 1276.2,732.6 1293.1,729.8 1301.6,728.7 1316.9,728.7 1333.7,725 1350.6,721.7 1367.5,720.8 1384.4,723.3 1397.9,726.7 1418.1,724.5 1435,721.7 1446.8,718.8 1460.3,710.3 1473.8,701.4 1488.2,692.5" fill="none" stroke="#f6e873" stroke-width="2.2" stroke-linejoin="round"/>
<polyline points="15.05,713.2 22.1,719.6 29.14,716.1 36.19,716.1 43.24,718.3 50.28,720.5 57.33,720 64.38,714.9 71.42,701.4 78.47,696 85.52,703.1 92.56,698.5 99.61,698 106.66,700.9 113.7,700.9 120.75,719.5 127.8,709.3 134.84,733 141.89,739.4 148.94,749.8 155.98,742.4 163.03,744.4 170.08,745.8 177.12,735.7 184.17,733.5 191.22,721.3 198.26,723.7 205.31,724.7 212.36,725 219.4,741.6 226.45,733 233.5,728.7 240.54,731.3 247.59,723 254.64,731.8 261.68,738 268.73,747 275.78,747.5 282.82,747.8 289.87,755.1 296.92,757.4 303.96,757.4 311.01,754.2 318.06,750 325.1,752 332.15,743.6 339.2,753.2 346.24,751.2 353.29,746.6 360.34,752.9 367.39,750.3 374.43,741.9 381.48,755.9 388.53,752.5 395.57,747 402.62,743.6 409.67,722.8 416.71,728.7 423.76,729.8 430.81,738.5 437.85,744.4 444.9,736.8 451.95,739.9 458.99,738.9 466.04,759.3 473.09,734.6 480.13,745.6 487.18,743.1 494.23,743.6 501.27,751.5 508.32,750 515.37,750.3 522.41,749.7 529.46,759.8 536.51,749.8 543.55,738.9 550.6,736 557.65,738.2 564.69,730.6 571.74,712.9 578.79,698.4 585.83,700.2 592.88,694.7 599.93,697.2 606.97,698.9 614.02,702.6 621.07,698.9 628.11,710.2 635.16,706.8 642.21,706.5 649.25,705.1 656.3,704.4 663.35,699.2 670.39,707.3 677.44,713.7 684.49,725 691.53,718.8 698.58,720 705.63,722.8 712.67,718.8 719.72,715.7 726.77,721.1 733.81,706.5 740.86,727.9 747.91,728.4 754.95,729.2 762,731.3 769.05,736.5 776.09,735.2 783.14,737.7 790.19,735.4 797.23,738 804.28,731.8 811.33,749.2 818.37,748.1 825.42,744.8 832.47,747.5 839.51,744.9 846.56,743.9 853.61,746.1 860.65,747 867.7,733.8 874.75,746.1 881.79,746.1 888.84,748.3 895.89,749 902.93,749.2 909.98,743.9 917.03,726.7 924.07,732.3 931.12,736.5 938.17,737.3 945.21,736.5 952.26,740.6 959.31,736.5 966.35,743.6 973.4,757.1 980.45,785.8 987.49,790.8 994.54,789.5 1001.59,786.3 1008.63,787 1015.68,787.8 1022.73,774.5 1029.77,777.3 1036.82,779 1043.87,779.7 1050.91,776 1057.96,775.7 1065.01,730.4 1072.06,738.5 1079.1,759.1 1086.15,761 1093.2,759.3 1100.24,756.6 1107.29,759.1 1114.34,760 1121.38,760.5 1128.43,747 1135.48,752.9 1142.52,753.2 1149.57,754.2 1156.62,765.5 1163.66,747.8 1170.71,740.2 1177.76,733.5 1184.8,731.4 1191.85,732.3 1198.9,733.1 1205.94,728.4 1212.99,718.6 1220.04,720.8 1227.08,735.2 1234.13,734.6 1241.18,734.6 1248.22,743.3 1255.27,741.9 1262.32,744.1 1269.36,738.9 1276.41,722.2 1283.46,725.4 1290.5,723.8 1297.55,704.3 1304.6,718.1 1311.64,720 1318.69,713.6 1325.74,723.3 1332.78,713.7 1339.83,713.6 1346.88,714.6 1353.92,723.8 1360.97,729.2 1368.02,741.6 1375.06,744.4 1382.11,741.6 1389.16,741.6 1396.2,732.3 1403.25,707.8 1410.3,710.3 1417.34,712.7 1424.39,705.6 1431.44,694.7 1438.48,691.8 1445.53,691.3 1452.58,672.2 1459.62,669 1466.67,667.1 1473.72,673.6 1480.76,679.8 1487.81,679" fill="none" stroke="#8059c4" stroke-width="1.45" stroke-linejoin="round"/>
</g>
<line x1="1512.2" y1="39" x2="1512.2" y2="849.5" stroke="#b29a91" stroke-width="1.5"/>
<line x1="14" y1="805" x2="1586" y2="805" stroke="#b29a91" stroke-width="1.5"/>
<line x1="14" y1="651.4" x2="1586" y2="651.4" stroke="#4b4345" stroke-width="1.5"/>
<rect x="1513" y="39" width="73" height="1" fill="#fedfd3"/>
<text x="1524.6" y="88.6" font-size="19.3" fill="#16151b" textLength="48.4" lengthAdjust="spacingAndGlyphs" stroke="#16151b" stroke-width="0.15">48000</text>
<text x="1524.6" y="153.9" font-size="19.3" fill="#16151b" textLength="48.4" lengthAdjust="spacingAndGlyphs" stroke="#16151b" stroke-width="0.15">43000</text>
<text x="1524.6" y="211.7" font-size="19.3" fill="#16151b" textLength="48.4" lengthAdjust="spacingAndGlyphs" stroke="#16151b" stroke-width="0.15">39000</text>
<text x="1524.6" y="277.1" font-size="19.3" fill="#16151b" textLength="48.4" lengthAdjust="spacingAndGlyphs" stroke="#16151b" stroke-width="0.15">35000</text>
<text x="1524.6" y="349.9" font-size="19.3" fill="#16151b" textLength="48.4" lengthAdjust="spacingAndGlyphs" stroke="#16151b" stroke-width="0.15">31000</text>
<text x="1524.6" y="431.5" font-size="19.3" fill="#16151b" textLength="48.4" lengthAdjust="spacingAndGlyphs" stroke="#16151b" stroke-width="0.15">27000</text>
<text x="1524.6" y="502.1" font-size="19.3" fill="#16151b" textLength="48.4" lengthAdjust="spacingAndGlyphs" stroke="#16151b" stroke-width="0.15">24000</text>
<text x="1524.6" y="554.1" font-size="19.3" fill="#16151b" textLength="48.4" lengthAdjust="spacingAndGlyphs" stroke="#16151b" stroke-width="0.15">22000</text>
<text x="1524.6" y="610.9" font-size="19.3" fill="#16151b" textLength="48.4" lengthAdjust="spacingAndGlyphs" stroke="#16151b" stroke-width="0.15">20000</text>
<text x="1524.6" y="687.9" font-size="19.3" fill="#16151b" textLength="46.3" lengthAdjust="spacingAndGlyphs" stroke="#16151b" stroke-width="0.15">80.00</text>
<text x="1524.6" y="759.6" font-size="19.3" fill="#16151b" textLength="46.3" lengthAdjust="spacingAndGlyphs" stroke="#16151b" stroke-width="0.15">40.00</text>
<rect x="1513" y="39" width="73" height="47.7" fill="#fedfd3"/>
<rect x="1517.2" y="44.4" width="62.8" height="36" rx="5" ry="5" fill="#ffffff"/>
<text x="1529.5" y="68.6" font-size="19.3" fill="#16151b" textLength="31.1" lengthAdjust="spacingAndGlyphs" stroke="#16151b" stroke-width="0.15">USD</text>
<rect x="1511.9" y="202.9" width="68.2" height="27.2" rx="1.5" ry="1.5" fill="#fc0912"/>
<text x="1524.9" y="223.55" font-size="20.4" fill="#ffffff" textLength="48.4" lengthAdjust="spacingAndGlyphs" font-weight="bold" stroke="#ffffff" stroke-width="0">38345</text>
<rect x="1511.9" y="237" width="68.2" height="27.1" rx="1.5" ry="1.5" fill="#fc0912"/>
<text x="1524.9" y="257.6" font-size="20.4" fill="#ffffff" textLength="48.4" lengthAdjust="spacingAndGlyphs" font-weight="bold" stroke="#ffffff" stroke-width="0">36191</text>
<rect x="1511.9" y="272.9" width="68.2" height="27.9" rx="1.5" ry="1.5" fill="#66b96b"/>
<text x="1524.8" y="293.75" font-size="19.3" fill="#131722" textLength="48.3" lengthAdjust="spacingAndGlyphs" stroke="#131722" stroke-width="0.15">34093</text>
<rect x="1511.9" y="300.8" width="68.2" height="27.1" rx="1.5" ry="1.5" fill="#0cc02c"/>
<text x="1524.9" y="321.4" font-size="20.4" fill="#ffffff" textLength="48.4" lengthAdjust="spacingAndGlyphs" font-weight="bold" stroke="#ffffff" stroke-width="0">33137</text>
<rect x="1511.9" y="333" width="68.2" height="27.6" rx="1.5" ry="1.5" fill="#0cc02c"/>
<text x="1524.9" y="353.85" font-size="20.4" fill="#ffffff" textLength="48.4" lengthAdjust="spacingAndGlyphs" font-weight="bold" stroke="#ffffff" stroke-width="0">30804</text>
<text x="219" y="833.6" font-size="19.2" fill="#16151b" text-anchor="middle" textLength="33.6" lengthAdjust="spacingAndGlyphs" stroke="#16151b" stroke-width="0.75">May</text>
<text x="437.45" y="833.6" font-size="19.2" fill="#16151b" text-anchor="middle" textLength="31.5" lengthAdjust="spacingAndGlyphs" stroke="#16151b" stroke-width="0.75">Jun</text>
<text x="648.85" y="833.6" font-size="19.2" fill="#16151b" text-anchor="middle" textLength="25.6" lengthAdjust="spacingAndGlyphs" stroke="#16151b" stroke-width="0.75">Jul</text>
<text x="867.3" y="833.6" font-size="19.2" fill="#16151b" text-anchor="middle" textLength="32" lengthAdjust="spacingAndGlyphs" stroke="#16151b" stroke-width="0.75">Aug</text>
<text x="1085.75" y="833.6" font-size="19.2" fill="#16151b" text-anchor="middle" textLength="32" lengthAdjust="spacingAndGlyphs" stroke="#16151b" stroke-width="0.75">Sep</text>
<text x="1297.15" y="833.6" font-size="19.2" fill="#16151b" text-anchor="middle" textLength="29.5" lengthAdjust="spacingAndGlyphs" stroke="#16151b" stroke-width="0.75">Oct</text>
<text x="13.8" y="27.9" font-size="16.5" fill="#d4d7df" textLength="84.4" lengthAdjust="spacingAndGlyphs" stroke="#d4d7df" stroke-width="0.6">AnShRoy038</text>
<text x="103.3" y="27.9" font-size="16.5" fill="#d4d7df" textLength="68" lengthAdjust="spacingAndGlyphs" stroke="#d4d7df" stroke-width="0.6">published</text>
<text x="177.2" y="27.9" font-size="16.5" fill="#d4d7df" textLength="16.8" lengthAdjust="spacingAndGlyphs" stroke="#d4d7df" stroke-width="0.6">on</text>
<text x="200.4" y="27.9" font-size="16.5" fill="#d4d7df" textLength="123.6" lengthAdjust="spacingAndGlyphs" stroke="#d4d7df" stroke-width="0.6">TradingView.com,</text>
<text x="331" y="27.9" font-size="16.5" fill="#d4d7df" textLength="24" lengthAdjust="spacingAndGlyphs" stroke="#d4d7df" stroke-width="0.6">Oct</text>
<text x="361.4" y="27.9" font-size="16.5" fill="#d4d7df" textLength="21" lengthAdjust="spacingAndGlyphs" stroke="#d4d7df" stroke-width="0.6">28,</text>
<text x="388.4" y="27.9" font-size="16.5" fill="#d4d7df" textLength="32.6" lengthAdjust="spacingAndGlyphs" stroke="#d4d7df" stroke-width="0.6">2023</text>
<text x="428" y="27.9" font-size="16.5" fill="#d4d7df" textLength="37" lengthAdjust="spacingAndGlyphs" stroke="#d4d7df" stroke-width="0.6">13:43</text>
<text x="471.6" y="27.9" font-size="16.5" fill="#d4d7df" textLength="28.4" lengthAdjust="spacingAndGlyphs" stroke="#d4d7df" stroke-width="0.6">UTC</text>
<text x="25.3" y="66.7" font-size="16" fill="#16151b" textLength="48.3" lengthAdjust="spacingAndGlyphs" stroke="#16151b" stroke-width="0.3">Bitcoin</text>
<text x="80.8" y="66.7" font-size="16" fill="#16151b" textLength="4.7" lengthAdjust="spacingAndGlyphs" stroke="#16151b" stroke-width="0.3">/</text>
<text x="92.8" y="66.7" font-size="16" fill="#16151b" textLength="27.4" lengthAdjust="spacingAndGlyphs" stroke="#16151b" stroke-width="0.3">U.S.</text>
<text x="127.8" y="66.7" font-size="16" fill="#16151b" textLength="43.8" lengthAdjust="spacingAndGlyphs" stroke="#16151b" stroke-width="0.3">Dollar,</text>
<text x="179.6" y="66.7" font-size="16" fill="#16151b" textLength="21.4" lengthAdjust="spacingAndGlyphs" stroke="#16151b" stroke-width="0.3">1D,</text>
<text x="208" y="66.7" font-size="16" fill="#16151b" textLength="66" lengthAdjust="spacingAndGlyphs" stroke="#16151b" stroke-width="0.3">BITSTAMP</text>
<text x="284.7" y="66.7" font-size="16" textLength="51.8" lengthAdjust="spacingAndGlyphs" stroke-width="0.3"><tspan fill="#16151b" stroke="#16151b">O</tspan><tspan fill="#2f7d32" stroke="#2f7d32">33902</tspan></text>
<text x="347.9" y="66.7" font-size="16" textLength="50.4" lengthAdjust="spacingAndGlyphs" stroke-width="0.3"><tspan fill="#16151b" stroke="#16151b">H</tspan><tspan fill="#2f7d32" stroke="#2f7d32">34506</tspan></text>
<text x="410.1" y="66.7" font-size="16" textLength="48.7" lengthAdjust="spacingAndGlyphs" stroke-width="0.3"><tspan fill="#16151b" stroke="#16151b">L</tspan><tspan fill="#2f7d32" stroke="#2f7d32">33878</tspan></text>
<text x="469.5" y="66.7" font-size="16" textLength="49.9" lengthAdjust="spacingAndGlyphs" stroke-width="0.3"><tspan fill="#16151b" stroke="#16151b">C</tspan><tspan fill="#2f7d32" stroke="#2f7d32">34093</tspan></text>
<text x="530.9" y="66.7" font-size="16" fill="#2f7d32" textLength="31.5" lengthAdjust="spacingAndGlyphs" stroke="#2f7d32" stroke-width="0.3">+187</text>
<text x="569.7" y="66.7" font-size="16" fill="#2f7d32" textLength="59" lengthAdjust="spacingAndGlyphs" stroke="#2f7d32" stroke-width="0.3">(+0.55%)</text>
<text x="25.4" y="90.3" font-size="16" fill="#16151b" textLength="28.2" lengthAdjust="spacingAndGlyphs" stroke="#16151b" stroke-width="0.3">EMA</text>
<text x="59.4" y="90.3" font-size="16" fill="#16151b" textLength="107.6" lengthAdjust="spacingAndGlyphs" stroke="#16151b" stroke-width="0.3">20/50/100/200</text>
<text x="178" y="90.3" font-size="16" fill="#f23030" textLength="41" lengthAdjust="spacingAndGlyphs" stroke="#f23030" stroke-width="0.3">30800</text>
<text x="230" y="90.3" font-size="16" fill="#8326a8" textLength="39.5" lengthAdjust="spacingAndGlyphs" stroke="#8326a8" stroke-width="0.3">28961</text>
<text x="281.4" y="90.3" font-size="16" fill="#24b4d2" textLength="40.4" lengthAdjust="spacingAndGlyphs" stroke="#24b4d2" stroke-width="0.3">28289</text>
<text x="332.9" y="90.3" font-size="16" fill="#27b827" textLength="40.9" lengthAdjust="spacingAndGlyphs" stroke="#27b827" stroke-width="0.3">27553</text>
<text x="25.3" y="114.2" font-size="16" fill="#16151b" textLength="19.9" lengthAdjust="spacingAndGlyphs" stroke="#16151b" stroke-width="0.3">Vol</text>
<text x="52.2" y="114.2" font-size="16" fill="#16151b" textLength="3.8" lengthAdjust="spacingAndGlyphs" stroke="#16151b" stroke-width="0.3">•</text>
<text x="63" y="114.2" font-size="16" fill="#16151b" textLength="25.8" lengthAdjust="spacingAndGlyphs" stroke="#16151b" stroke-width="0.3">BTC</text>
<text x="99.4" y="114.2" font-size="16" fill="#26a69a" textLength="24.6" lengthAdjust="spacingAndGlyphs" stroke="#26a69a" stroke-width="0.3">579</text>
<text x="25" y="680.6" font-size="16" fill="#16151b" textLength="20.2" lengthAdjust="spacingAndGlyphs" stroke="#16151b" stroke-width="0.3">RSI</text>
<text x="52.3" y="680.6" font-size="16" fill="#16151b" textLength="25.7" lengthAdjust="spacingAndGlyphs" stroke="#16151b" stroke-width="0.3">(14,</text>
<text x="84.4" y="680.6" font-size="16" fill="#16151b" textLength="40.5" lengthAdjust="spacingAndGlyphs" stroke="#16151b" stroke-width="0.3">close,</text>
<text x="131.3" y="680.6" font-size="16" fill="#16151b" textLength="31.5" lengthAdjust="spacingAndGlyphs" stroke="#16151b" stroke-width="0.3">SMA,</text>
<text x="171.9" y="680.6" font-size="16" fill="#16151b" textLength="21.2" lengthAdjust="spacingAndGlyphs" stroke="#16151b" stroke-width="0.3">14,</text>
<text x="199.1" y="680.6" font-size="16" fill="#16151b" textLength="11.9" lengthAdjust="spacingAndGlyphs" stroke="#16151b" stroke-width="0.3">2)</text>
<text x="222.7" y="680.6" font-size="16" fill="#7e57c2" textLength="38.3" lengthAdjust="spacingAndGlyphs" stroke="#7e57c2" stroke-width="0.3">81.36</text>
<text x="271.8" y="680.6" font-size="16" fill="#f7e24a" textLength="38" lengthAdjust="spacingAndGlyphs" stroke="#f7e24a" stroke-width="0.3">73.96</text>
<text x="320.5" y="680.8" font-size="15.8" fill="#16151b" textLength="9" lengthAdjust="spacingAndGlyphs" stroke="#16151b" stroke-width="0.45" font-family="DejaVu Sans, sans-serif">∅</text>
<text x="341.1" y="680.8" font-size="15.8" fill="#16151b" textLength="9" lengthAdjust="spacingAndGlyphs" stroke="#16151b" stroke-width="0.45" font-family="DejaVu Sans, sans-serif">∅</text>
<text x="361.3" y="680.8" font-size="15.8" fill="#16151b" textLength="9" lengthAdjust="spacingAndGlyphs" stroke="#16151b" stroke-width="0.45" font-family="DejaVu Sans, sans-serif">∅</text>
<text x="381.5" y="680.8" font-size="15.8" fill="#16151b" textLength="9" lengthAdjust="spacingAndGlyphs" stroke="#16151b" stroke-width="0.45" font-family="DejaVu Sans, sans-serif">∅</text>
<text x="401.8" y="680.8" font-size="15.8" fill="#16151b" textLength="9" lengthAdjust="spacingAndGlyphs" stroke="#16151b" stroke-width="0.45" font-family="DejaVu Sans, sans-serif">∅</text>
<text x="422" y="680.8" font-size="15.8" fill="#16151b" textLength="9" lengthAdjust="spacingAndGlyphs" stroke="#16151b" stroke-width="0.45" font-family="DejaVu Sans, sans-serif">∅</text>
<g fill="#d4d7df">
<path d="M14 868.3 H24.5 V881.8 H18.5 V872.6 H14 Z"/>
<circle cx="28.5" cy="870.8" r="2.5"/>
<path d="M33.8 868.3 H39.7 L34.4 881.8 H28.4 Z"/>
</g>
<text x="45" y="881.8" font-size="18" fill="#d4d7df" textLength="93.5" lengthAdjust="spacingAndGlyphs" stroke="#d4d7df" stroke-width="0.6">TradingView</text>
</svg>
</body></html>
